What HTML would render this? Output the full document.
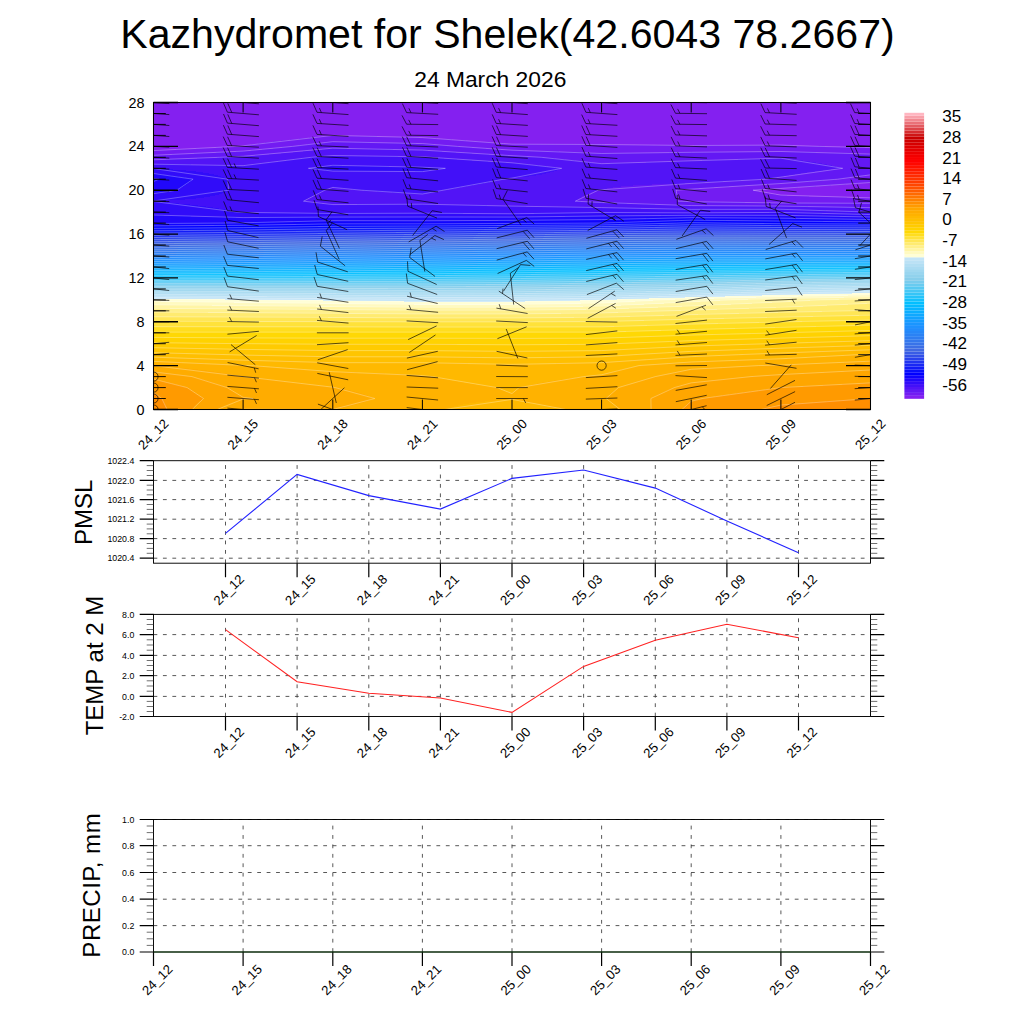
<!DOCTYPE html><html><head><meta charset="utf-8"><title>Meteogram</title>
<style>html,body{margin:0;padding:0;background:#fff}svg{display:block}text{font-family:"Liberation Sans",sans-serif;fill:#000}</style></head><body>
<svg width="1024" height="1024" viewBox="0 0 1024 1024">
<rect width="1024" height="1024" fill="#fff"/>
<text x="507.5" y="47.9" font-size="41.1" text-anchor="middle">Kazhydromet for Shelek(42.6043 78.2667)</text>
<text x="490.3" y="86.6" font-size="22.8" text-anchor="middle">24 March 2026</text>
<g shape-rendering="crispEdges">
<path fill="#8420f0" d="M153 102h718v1h-718zM153 103h718v1h-718zM153 104h718v1h-718zM153 105h718v1h-718zM153 106h718v1h-718zM153 107h718v1h-718zM153 108h718v1h-718zM153 109h718v1h-718zM153 110h718v1h-718zM153 111h718v1h-718zM153 112h718v1h-718zM153 113h718v1h-718zM153 114h718v1h-718zM153 115h718v1h-718zM153 116h718v1h-718zM153 117h718v1h-718zM153 118h718v1h-718zM153 119h718v1h-718zM153 120h718v1h-718zM153 121h718v1h-718zM153 122h718v1h-718zM153 123h718v1h-718zM153 124h718v1h-718zM153 125h718v1h-718zM153 126h718v1h-718zM153 127h718v1h-718zM153 128h718v1h-718zM153 129h718v1h-718zM153 130h718v1h-718zM153 131h718v1h-718zM153 132h718v1h-718zM153 133h718v1h-718zM153 134h718v1h-718zM153 135h178v1h-178zM337 135h534v1h-534zM153 136h167v1h-167zM377 136h494v1h-494zM153 137h156v1h-156zM419 137h452v1h-452zM153 138h146v1h-146zM437 138h434v1h-434zM153 139h137v1h-137zM452 139h419v1h-419zM153 140h128v1h-128zM466 140h405v1h-405zM153 141h120v1h-120zM480 141h391v1h-391zM153 142h112v1h-112zM492 142h379v1h-379zM153 143h105v1h-105zM504 143h367v1h-367zM153 144h98v1h-98zM605 144h266v1h-266zM153 145h92v1h-92zM690 145h4v1h-4zM793 145h78v1h-78zM153 146h81v1h-81zM825 146h46v1h-46zM153 147h63v1h-63zM865 147h6v1h-6zM153 148h43v1h-43zM153 149h23v1h-23zM153 150h2v1h-2zM859 183h12v1h-12zM846 184h25v1h-25zM831 185h40v1h-40zM816 186h55v1h-55zM798 187h73v1h-73zM780 188h91v1h-91zM764 189h107v1h-107zM754 190h117v1h-117zM759 191h112v1h-112zM764 192h107v1h-107zM769 193h102v1h-102zM776 194h95v1h-95zM787 195h84v1h-84zM809 196h62v1h-62zM847 197h24v1h-24z"/>
<path fill="#731cf2" d="M331 135h6v1h-6zM320 136h57v1h-57zM309 137h110v1h-110zM299 138h138v1h-138zM290 139h162v1h-162zM281 140h185v1h-185zM273 141h207v1h-207zM265 142h60v1h-60zM370 142h122v1h-122zM258 143h58v1h-58zM416 143h88v1h-88zM251 144h56v1h-56zM434 144h171v1h-171zM245 145h54v1h-54zM447 145h243v1h-243zM694 145h99v1h-99zM234 146h57v1h-57zM459 146h366v1h-366zM216 147h66v1h-66zM472 147h393v1h-393zM196 148h77v1h-77zM486 148h385v1h-385zM176 149h86v1h-86zM501 149h370v1h-370zM155 150h96v1h-96zM525 150h346v1h-346zM153 151h83v1h-83zM559 151h312v1h-312zM153 152h63v1h-63zM583 152h86v1h-86zM816 152h55v1h-55zM153 153h41v1h-41zM851 153h20v1h-20zM153 154h19v1h-19zM865 175h6v1h-6zM857 176h14v1h-14zM850 177h21v1h-21zM843 178h28v1h-28zM835 179h36v1h-36zM823 180h48v1h-48zM810 181h61v1h-61zM796 182h75v1h-75zM780 183h79v1h-79zM762 184h84v1h-84zM745 185h86v1h-86zM729 186h87v1h-87zM714 187h84v1h-84zM699 188h81v1h-81zM685 189h79v1h-79zM676 190h78v1h-78zM676 191h83v1h-83zM676 192h88v1h-88zM677 193h92v1h-92zM677 194h99v1h-99zM677 195h110v1h-110zM677 196h132v1h-132zM677 197h170v1h-170zM677 198h194v1h-194zM678 199h193v1h-193zM678 200h193v1h-193zM686 201h185v1h-185zM745 202h126v1h-126z"/>
<path fill="#6318f4" d="M325 142h45v1h-45zM316 143h100v1h-100zM307 144h127v1h-127zM299 145h148v1h-148zM291 146h168v1h-168zM282 147h190v1h-190zM273 148h57v1h-57zM347 148h139v1h-139zM262 149h60v1h-60zM393 149h108v1h-108zM251 150h62v1h-62zM428 150h97v1h-97zM236 151h67v1h-67zM442 151h117v1h-117zM216 152h77v1h-77zM456 152h127v1h-127zM669 152h147v1h-147zM194 153h87v1h-87zM472 153h379v1h-379zM172 154h97v1h-97zM489 154h382v1h-382zM153 155h102v1h-102zM508 155h363v1h-363zM153 156h86v1h-86zM527 156h344v1h-344zM153 157h64v1h-64zM543 157h328v1h-328zM153 158h44v1h-44zM555 158h215v1h-215zM784 158h87v1h-87zM153 159h13v1h-13zM565 159h173v1h-173zM794 159h77v1h-77zM575 160h127v1h-127zM803 160h68v1h-68zM584 161h90v1h-90zM810 161h61v1h-61zM592 162h54v1h-54zM816 162h55v1h-55zM600 163h10v1h-10zM822 163h49v1h-49zM827 164h44v1h-44zM832 165h39v1h-39zM836 166h35v1h-35zM840 167h31v1h-31zM841 168h30v1h-30zM831 169h40v1h-40zM823 170h48v1h-48zM815 171h56v1h-56zM807 172h64v1h-64zM801 173h70v1h-70zM795 174h76v1h-76zM789 175h76v1h-76zM784 176h73v1h-73zM777 177h73v1h-73zM770 178h73v1h-73zM760 179h75v1h-75zM741 180h82v1h-82zM723 181h87v1h-87zM705 182h91v1h-91zM685 183h95v1h-95zM652 184h110v1h-110zM633 185h112v1h-112zM621 186h108v1h-108zM613 187h101v1h-101zM607 188h92v1h-92zM603 189h82v1h-82zM597 190h79v1h-79zM594 191h82v1h-82zM591 192h85v1h-85zM589 193h88v1h-88zM586 194h91v1h-91zM584 195h93v1h-93zM582 196h95v1h-95zM581 197h96v1h-96zM579 198h98v1h-98zM578 199h100v1h-100zM576 200h102v1h-102zM581 201h105v1h-105zM603 202h142v1h-142zM627 203h244v1h-244zM655 204h216v1h-216zM689 205h182v1h-182zM808 206h63v1h-63zM861 207h10v1h-10z"/>
<path fill="#5214f6" d="M330 148h17v1h-17zM322 149h71v1h-71zM313 150h115v1h-115zM303 151h139v1h-139zM293 152h163v1h-163zM281 153h191v1h-191zM269 154h220v1h-220zM255 155h253v1h-253zM239 156h83v1h-83zM398 156h129v1h-129zM217 157h93v1h-93zM432 157h111v1h-111zM197 158h105v1h-105zM444 158h111v1h-111zM770 158h14v1h-14zM166 159h128v1h-128zM457 159h108v1h-108zM738 159h56v1h-56zM153 160h133v1h-133zM472 160h103v1h-103zM702 160h101v1h-101zM153 161h125v1h-125zM488 161h96v1h-96zM674 161h136v1h-136zM153 162h116v1h-116zM506 162h86v1h-86zM646 162h170v1h-170zM153 163h108v1h-108zM519 163h81v1h-81zM610 163h212v1h-212zM191 164h62v1h-62zM529 164h298v1h-298zM239 165h6v1h-6zM539 165h293v1h-293zM547 166h289v1h-289zM556 167h284v1h-284zM561 168h280v1h-280zM559 169h272v1h-272zM557 170h266v1h-266zM554 171h261v1h-261zM550 172h257v1h-257zM546 173h255v1h-255zM542 174h253v1h-253zM536 175h253v1h-253zM529 176h255v1h-255zM519 177h258v1h-258zM509 178h261v1h-261zM503 179h257v1h-257zM498 180h243v1h-243zM494 181h229v1h-229zM489 182h216v1h-216zM484 183h201v1h-201zM479 184h173v1h-173zM473 185h160v1h-160zM467 186h154v1h-154zM332 187h2v1h-2zM461 187h152v1h-152zM329 188h13v1h-13zM455 188h152v1h-152zM327 189h25v1h-25zM448 189h155v1h-155zM324 190h40v1h-40zM442 190h155v1h-155zM322 191h55v1h-55zM438 191h156v1h-156zM320 192h72v1h-72zM432 192h159v1h-159zM318 193h92v1h-92zM426 193h163v1h-163zM316 194h270v1h-270zM314 195h270v1h-270zM312 196h270v1h-270zM310 197h271v1h-271zM308 198h271v1h-271zM306 199h272v1h-272zM305 200h271v1h-271zM306 201h275v1h-275zM313 202h290v1h-290zM322 203h305v1h-305zM332 204h25v1h-25zM436 204h219v1h-219zM487 205h202v1h-202zM526 206h282v1h-282zM594 207h267v1h-267zM641 208h230v1h-230zM790 209h81v1h-81zM826 210h45v1h-45zM855 211h16v1h-16z"/>
<path fill="#4210f8" d="M322 156h76v1h-76zM310 157h122v1h-122zM302 158h142v1h-142zM294 159h163v1h-163zM286 160h186v1h-186zM278 161h210v1h-210zM269 162h237v1h-237zM261 163h258v1h-258zM153 164h38v1h-38zM253 164h276v1h-276zM153 165h86v1h-86zM245 165h86v1h-86zM342 165h197v1h-197zM153 166h170v1h-170zM389 166h158v1h-158zM153 167h162v1h-162zM428 167h128v1h-128zM153 168h157v1h-157zM443 168h118v1h-118zM173 169h143v1h-143zM435 169h124v1h-124zM186 170h139v1h-139zM429 170h128v1h-128zM196 171h219v1h-219zM423 171h131v1h-131zM203 172h347v1h-347zM209 173h337v1h-337zM214 174h328v1h-328zM218 175h318v1h-318zM221 176h308v1h-308zM224 177h295v1h-295zM226 178h283v1h-283zM228 179h275v1h-275zM228 180h270v1h-270zM228 181h266v1h-266zM228 182h261v1h-261zM228 183h256v1h-256zM228 184h251v1h-251zM228 185h245v1h-245zM228 186h239v1h-239zM228 187h104v1h-104zM334 187h127v1h-127zM228 188h101v1h-101zM342 188h113v1h-113zM229 189h98v1h-98zM352 189h96v1h-96zM228 190h96v1h-96zM364 190h78v1h-78zM226 191h96v1h-96zM377 191h61v1h-61zM224 192h96v1h-96zM392 192h40v1h-40zM222 193h96v1h-96zM410 193h16v1h-16zM219 194h97v1h-97zM215 195h99v1h-99zM210 196h102v1h-102zM204 197h106v1h-106zM196 198h112v1h-112zM185 199h121v1h-121zM167 200h138v1h-138zM154 201h152v1h-152zM168 202h145v1h-145zM179 203h143v1h-143zM190 204h142v1h-142zM357 204h79v1h-79zM198 205h289v1h-289zM206 206h320v1h-320zM213 207h381v1h-381zM219 208h422v1h-422zM225 209h565v1h-565zM230 210h596v1h-596zM234 211h621v1h-621zM249 212h352v1h-352zM602 212h167v1h-167zM783 212h88v1h-88zM463 213h71v1h-71zM822 213h49v1h-49zM867 214h4v1h-4z"/>
<path fill="#310cf9" d="M331 165h11v1h-11zM323 166h66v1h-66zM315 167h113v1h-113zM310 168h133v1h-133zM153 169h20v1h-20zM316 169h119v1h-119zM153 170h33v1h-33zM325 170h104v1h-104zM153 171h43v1h-43zM415 171h8v1h-8zM153 172h50v1h-50zM153 173h56v1h-56zM163 174h51v1h-51zM172 175h46v1h-46zM179 176h42v1h-42zM185 177h39v1h-39zM190 178h36v1h-36zM193 179h35v1h-35zM192 180h36v1h-36zM191 181h37v1h-37zM190 182h38v1h-38zM188 183h40v1h-40zM187 184h41v1h-41zM185 185h43v1h-43zM184 186h44v1h-44zM182 187h46v1h-46zM180 188h48v1h-48zM178 189h51v1h-51zM175 190h53v1h-53zM169 191h57v1h-57zM162 192h62v1h-62zM154 193h68v1h-68zM153 194h66v1h-66zM153 195h62v1h-62zM153 196h57v1h-57zM153 197h51v1h-51zM153 198h43v1h-43zM153 199h32v1h-32zM153 200h14v1h-14zM153 201h1v1h-1zM153 202h15v1h-15zM153 203h26v1h-26zM153 204h37v1h-37zM153 205h45v1h-45zM153 206h53v1h-53zM153 207h60v1h-60zM153 208h66v1h-66zM153 209h72v1h-72zM153 210h77v1h-77zM153 211h81v1h-81zM153 212h96v1h-96zM601 212h1v1h-1zM769 212h14v1h-14zM153 213h310v1h-310zM534 213h288v1h-288zM153 214h714v1h-714zM164 215h497v1h-497zM789 215h82v1h-82zM191 216h374v1h-374zM840 216h31v1h-31zM236 217h23v1h-23z"/>
<path fill="#2108fb" d="M153 174h10v1h-10zM153 175h19v1h-19zM153 176h26v1h-26zM153 177h32v1h-32zM153 178h37v1h-37zM158 179h35v1h-35zM156 180h36v1h-36zM154 181h37v1h-37zM153 182h37v1h-37zM153 183h35v1h-35zM153 184h34v1h-34zM153 185h32v1h-32zM153 186h31v1h-31zM153 187h29v1h-29zM153 188h27v1h-27zM153 189h25v1h-25zM153 190h22v1h-22zM153 191h16v1h-16zM153 192h9v1h-9zM153 193h1v1h-1zM153 215h11v1h-11zM661 215h128v1h-128zM153 216h38v1h-38zM565 216h275v1h-275zM153 217h83v1h-83zM259 217h612v1h-612zM153 218h493v1h-493zM800 218h71v1h-71zM153 219h451v1h-451zM153 220h345v1h-345zM153 221h140v1h-140zM153 222h101v1h-101z"/>
<path fill="#1004fd" d="M153 179h5v1h-5zM153 180h3v1h-3zM153 181h1v1h-1zM646 218h154v1h-154zM604 219h267v1h-267zM498 220h180v1h-180zM726 220h145v1h-145zM293 221h350v1h-350zM823 221h48v1h-48zM254 222h361v1h-361zM153 223h357v1h-357zM153 224h143v1h-143zM153 225h61v1h-61z"/>
<path fill="#0000ff" d="M678 220h48v1h-48zM643 221h180v1h-180zM615 222h256v1h-256zM510 223h151v1h-151zM764 223h107v1h-107zM296 224h323v1h-323zM214 225h283v1h-283zM153 226h165v1h-165zM153 227h99v1h-99z"/>
<path fill="#080efb" d="M661 223h103v1h-103zM619 224h252v1h-252zM497 225h162v1h-162zM771 225h100v1h-100zM318 226h291v1h-291zM252 227h237v1h-237zM153 228h196v1h-196zM153 229h121v1h-121zM153 230h30v1h-30z"/>
<path fill="#111bf7" d="M659 225h112v1h-112zM609 226h262v1h-262zM489 227h166v1h-166zM784 227h87v1h-87zM349 228h240v1h-240zM274 229h210v1h-210zM183 230h197v1h-197zM153 231h143v1h-143zM153 232h68v1h-68z"/>
<path fill="#1928f4" d="M655 227h129v1h-129zM589 228h282v1h-282zM484 229h166v1h-166zM820 229h51v1h-51zM380 230h189v1h-189zM296 231h185v1h-185zM221 232h175v1h-175zM153 233h165v1h-165zM153 234h93v1h-93z"/>
<path fill="#2135f0" d="M650 229h170v1h-170zM569 230h302v1h-302zM481 231h160v1h-160zM870 231h1v1h-1zM396 232h158v1h-158zM318 233h160v1h-160zM246 234h158v1h-158zM153 235h173v1h-173zM153 236h97v1h-97z"/>
<path fill="#2942ec" d="M641 231h229v1h-229zM554 232h317v1h-317zM478 233h148v1h-148zM404 234h141v1h-141zM326 235h150v1h-150zM250 236h153v1h-153zM153 237h174v1h-174zM153 238h100v1h-100zM153 239h8v1h-8z"/>
<path fill="#314fe8" d="M626 233h245v1h-245zM545 234h326v1h-326zM476 235h144v1h-144zM403 236h141v1h-141zM327 237h147v1h-147zM253 238h148v1h-148zM161 239h167v1h-167zM153 240h104v1h-104zM153 241h15v1h-15z"/>
<path fill="#395de5" d="M620 235h251v1h-251zM544 236h327v1h-327zM474 237h148v1h-148zM401 238h142v1h-142zM328 239h145v1h-145zM257 240h143v1h-143zM168 241h161v1h-161zM153 242h107v1h-107zM153 243h21v1h-21z"/>
<path fill="#4169e1" d="M622 237h249v1h-249zM543 238h328v1h-328zM473 239h151v1h-151zM400 240h142v1h-142zM329 241h142v1h-142zM260 242h139v1h-139zM174 243h156v1h-156zM153 244h109v1h-109zM153 245h26v1h-26z"/>
<path fill="#3c6ee5" d="M624 239h247v1h-247zM542 240h329v1h-329zM471 241h155v1h-155zM399 242h142v1h-142zM330 243h139v1h-139zM262 244h136v1h-136zM179 245h152v1h-152zM153 246h110v1h-110zM153 247h25v1h-25z"/>
<path fill="#3873e9" d="M626 241h245v1h-245zM541 242h330v1h-330zM469 243h160v1h-160zM398 244h142v1h-142zM331 245h137v1h-137zM263 246h136v1h-136zM178 247h154v1h-154zM153 248h110v1h-110zM153 249h25v1h-25z"/>
<path fill="#3478ed" d="M629 243h242v1h-242zM540 244h331v1h-331zM468 245h165v1h-165zM399 246h144v1h-144zM332 247h138v1h-138zM263 248h138v1h-138zM178 249h154v1h-154zM153 250h111v1h-111zM153 251h24v1h-24z"/>
<path fill="#2f7df0" d="M633 245h238v1h-238zM543 246h328v1h-328zM470 247h172v1h-172zM862 247h9v1h-9zM401 248h145v1h-145zM332 249h141v1h-141zM264 250h138v1h-138zM177 251h156v1h-156zM153 252h111v1h-111zM153 253h23v1h-23z"/>
<path fill="#2b82f4" d="M642 247h220v1h-220zM546 248h325v1h-325zM473 249h179v1h-179zM843 249h28v1h-28zM402 250h148v1h-148zM333 251h142v1h-142zM264 252h139v1h-139zM176 253h158v1h-158zM153 254h111v1h-111zM153 255h23v1h-23z"/>
<path fill="#2687f8" d="M652 249h191v1h-191zM550 250h321v1h-321zM475 251h186v1h-186zM818 251h53v1h-53zM403 252h150v1h-150zM334 253h144v1h-144zM264 254h141v1h-141zM176 255h159v1h-159zM153 256h110v1h-110zM153 257h16v1h-16z"/>
<path fill="#228cfc" d="M661 251h157v1h-157zM553 252h318v1h-318zM478 253h192v1h-192zM785 253h86v1h-86zM405 254h152v1h-152zM335 255h145v1h-145zM263 256h143v1h-143zM169 257h164v1h-164zM153 258h106v1h-106zM153 259h8v1h-8z"/>
<path fill="#1e91ff" d="M670 253h115v1h-115zM557 254h314v1h-314zM480 255h200v1h-200zM750 255h121v1h-121zM406 256h153v1h-153zM333 257h147v1h-147zM259 258h146v1h-146zM161 259h170v1h-170zM153 260h101v1h-101z"/>
<path fill="#1a96ff" d="M680 255h70v1h-70zM559 256h312v1h-312zM480 257h187v1h-187zM405 258h152v1h-152zM331 259h149v1h-149zM254 260h150v1h-150zM153 261h175v1h-175zM153 262h97v1h-97z"/>
<path fill="#169cff" d="M667 257h204v1h-204zM557 258h314v1h-314zM480 259h172v1h-172zM404 260h150v1h-150zM328 261h151v1h-151zM250 262h154v1h-154zM153 263h172v1h-172zM153 264h92v1h-92z"/>
<path fill="#12a2ff" d="M652 259h219v1h-219zM554 260h317v1h-317zM479 261h161v1h-161zM404 262h148v1h-148zM325 263h153v1h-153zM245 264h158v1h-158zM153 265h169v1h-169zM153 266h85v1h-85z"/>
<path fill="#0fa8ff" d="M640 261h231v1h-231zM552 262h259v1h-259zM478 263h152v1h-152zM403 264h147v1h-147zM322 265h156v1h-156zM238 266h164v1h-164zM153 267h162v1h-162zM153 268h53v1h-53z"/>
<path fill="#0baeff" d="M811 262h60v1h-60zM630 263h241v1h-241zM550 264h197v1h-197zM478 265h145v1h-145zM402 266h146v1h-146zM315 267h161v1h-161zM206 268h186v1h-186zM153 269h139v1h-139zM153 270h7v1h-7z"/>
<path fill="#07b4ff" d="M747 264h124v1h-124zM623 265h248v1h-248zM548 266h167v1h-167zM476 267h140v1h-140zM392 268h152v1h-152zM292 269h177v1h-177zM160 270h217v1h-217zM153 271h112v1h-112z"/>
<path fill="#03baff" d="M715 266h156v1h-156zM616 267h222v1h-222zM544 268h150v1h-150zM469 269h140v1h-140zM377 270h163v1h-163zM265 271h197v1h-197zM153 272h206v1h-206zM153 273h72v1h-72z"/>
<path fill="#02bfff" d="M838 267h33v1h-33zM694 268h177v1h-177zM609 269h180v1h-180zM540 270h142v1h-142zM462 271h141v1h-141zM359 272h176v1h-176zM225 273h229v1h-229zM153 274h182v1h-182zM153 275h10v1h-10z"/>
<path fill="#13c1fc" d="M789 269h82v1h-82zM682 270h189v1h-189zM603 271h157v1h-157zM535 272h137v1h-137zM454 273h144v1h-144zM335 274h196v1h-196zM163 275h282v1h-282zM153 276h150v1h-150z"/>
<path fill="#24c3fa" d="M760 271h111v1h-111zM672 272h171v1h-171zM598 273h142v1h-142zM531 274h132v1h-132zM445 275h148v1h-148zM303 276h223v1h-223zM153 277h282v1h-282zM153 278h97v1h-97z"/>
<path fill="#35c5f7" d="M843 272h28v1h-28zM740 273h131v1h-131zM663 274h145v1h-145zM593 275h131v1h-131zM526 276h129v1h-129zM435 277h154v1h-154zM250 278h271v1h-271zM153 279h260v1h-260z"/>
<path fill="#46c7f5" d="M808 274h63v1h-63zM724 275h147v1h-147zM655 276h126v1h-126zM589 277h123v1h-123zM521 278h126v1h-126zM413 279h169v1h-169zM153 280h361v1h-361zM153 281h192v1h-192z"/>
<path fill="#57c9f2" d="M781 276h90v1h-90zM712 277h133v1h-133zM647 278h113v1h-113zM582 279h119v1h-119zM514 280h125v1h-125zM345 281h230v1h-230zM153 282h349v1h-349z"/>
<path fill="#68cbf0" d="M845 277h26v1h-26zM760 278h111v1h-111zM701 279h104v1h-104zM639 280h101v1h-101zM575 281h118v1h-118zM502 282h130v1h-130zM153 283h416v1h-416zM153 284h333v1h-333z"/>
<path fill="#79cced" d="M805 279h66v1h-66zM740 280h111v1h-111zM693 281h80v1h-80zM632 282h95v1h-95zM569 283h115v1h-115zM486 284h140v1h-140zM153 285h409v1h-409zM153 286h313v1h-313z"/>
<path fill="#88ceeb" d="M851 280h20v1h-20zM773 281h98v1h-98zM727 282h85v1h-85zM684 283h72v1h-72zM626 284h91v1h-91zM562 285h114v1h-114zM466 286h154v1h-154zM153 287h401v1h-401zM388 288h50v1h-50z"/>
<path fill="#91d2ed" d="M812 282h59v1h-59zM756 283h95v1h-95zM717 284h64v1h-64zM676 285h66v1h-66zM620 286h89v1h-89zM554 287h114v1h-114zM153 288h235v1h-235zM438 288h176v1h-176zM153 289h393v1h-393z"/>
<path fill="#99d5ef" d="M851 283h20v1h-20zM781 284h90v1h-90zM742 285h76v1h-76zM709 286h56v1h-56zM668 287h64v1h-64zM614 288h89v1h-89zM546 289h113v1h-113zM153 290h454v1h-454zM256 291h280v1h-280z"/>
<path fill="#a1d8f0" d="M818 285h53v1h-53zM765 286h87v1h-87zM732 287h57v1h-57zM703 288h50v1h-50zM659 289h66v1h-66zM607 290h88v1h-88zM153 291h103v1h-103zM536 291h110v1h-110zM153 292h447v1h-447zM336 293h189v1h-189z"/>
<path fill="#aadbf2" d="M852 286h19v1h-19zM789 287h82v1h-82zM753 288h69v1h-69zM725 289h50v1h-50zM695 290h52v1h-52zM646 291h71v1h-71zM600 292h81v1h-81zM153 293h183v1h-183zM525 293h112v1h-112zM197 294h394v1h-394zM390 295h123v1h-123z"/>
<path fill="#b2def3" d="M822 288h49v1h-49zM775 289h85v1h-85zM747 290h66v1h-66zM717 291h54v1h-54zM681 292h60v1h-60zM637 293h71v1h-71zM153 294h44v1h-44zM591 294h78v1h-78zM153 295h237v1h-237zM513 295h116v1h-116zM267 296h314v1h-314z"/>
<path fill="#bbe1f5" d="M860 289h11v1h-11zM813 290h58v1h-58zM771 291h85v1h-85zM741 292h67v1h-67zM708 293h59v1h-59zM669 294h65v1h-65zM629 295h68v1h-68zM153 296h114v1h-114zM581 296h77v1h-77zM166 297h456v1h-456zM320 298h250v1h-250z"/>
<path fill="#c3e4f7" d="M856 291h15v1h-15zM808 292h63v1h-63zM767 293h85v1h-85zM734 294h69v1h-69zM697 295h65v1h-65zM658 296h67v1h-67zM153 297h13v1h-13zM622 297h63v1h-63zM153 298h167v1h-167zM570 298h79v1h-79zM225 299h392v1h-392zM323 300h257v1h-257zM404 301h121v1h-121z"/>
<path fill="#fffed6" d="M852 293h19v1h-19zM803 294h68v1h-68zM762 295h86v1h-86zM725 296h73v1h-73zM685 297h71v1h-71zM649 298h65v1h-65zM153 299h72v1h-72zM617 299h58v1h-58zM153 300h170v1h-170zM580 300h73v1h-73zM161 301h243v1h-243zM525 301h110v1h-110zM234 302h382v1h-382zM320 303h261v1h-261zM414 304h104v1h-104z"/>
<path fill="#fffac0" d="M848 295h23v1h-23zM798 296h73v1h-73zM756 297h88v1h-88zM714 298h78v1h-78zM675 299h73v1h-73zM653 300h67v1h-67zM153 301h8v1h-8zM635 301h65v1h-65zM153 302h81v1h-81zM616 302h66v1h-66zM153 303h167v1h-167zM581 303h83v1h-83zM153 304h261v1h-261zM518 304h126v1h-126zM212 305h409v1h-409zM316 306h267v1h-267z"/>
<path fill="#fff5a5" d="M844 297h27v1h-27zM792 298h79v1h-79zM748 299h91v1h-91zM720 300h90v1h-90zM700 301h91v1h-91zM682 302h90v1h-90zM664 303h88v1h-88zM644 304h87v1h-87zM153 305h59v1h-59zM621 305h85v1h-85zM153 306h163v1h-163zM583 306h99v1h-99zM153 307h505v1h-505zM170 308h459v1h-459zM310 309h276v1h-276z"/>
<path fill="#fff08b" d="M839 299h32v1h-32zM810 300h61v1h-61zM791 301h80v1h-80zM772 302h99v1h-99zM752 303h115v1h-115zM731 304h117v1h-117zM706 305h121v1h-121zM682 306h121v1h-121zM658 307h118v1h-118zM153 308h17v1h-17zM629 308h120v1h-120zM153 309h157v1h-157zM586 309h131v1h-131zM153 310h528v1h-528zM153 311h497v1h-497zM208 312h410v1h-410zM349 313h212v1h-212z"/>
<path fill="#ffeb70" d="M867 303h4v1h-4zM848 304h23v1h-23zM827 305h44v1h-44zM803 306h68v1h-68zM776 307h95v1h-95zM749 308h122v1h-122zM717 309h154v1h-154zM681 310h181v1h-181zM650 311h172v1h-172zM153 312h55v1h-55zM618 312h160v1h-160zM153 313h196v1h-196zM561 313h178v1h-178zM153 314h545v1h-545zM153 315h511v1h-511zM153 316h477v1h-477zM328 317h246v1h-246z"/>
<path fill="#ffe655" d="M862 310h9v1h-9zM822 311h49v1h-49zM778 312h93v1h-93zM739 313h132v1h-132zM698 314h173v1h-173zM664 315h195v1h-195zM630 316h183v1h-183zM153 317h175v1h-175zM574 317h193v1h-193zM153 318h571v1h-571zM153 319h529v1h-529zM153 320h491v1h-491zM255 321h349v1h-349z"/>
<path fill="#ffe23a" d="M859 315h12v1h-12zM813 316h58v1h-58zM767 317h104v1h-104zM724 318h147v1h-147zM682 319h189v1h-189zM644 320h207v1h-207zM153 321h102v1h-102zM604 321h198v1h-198zM153 322h606v1h-606zM153 323h565v1h-565zM153 324h528v1h-528zM153 325h494v1h-494zM153 326h461v1h-461z"/>
<path fill="#ffdd1f" d="M851 320h20v1h-20zM802 321h69v1h-69zM759 322h112v1h-112zM718 323h153v1h-153zM681 324h190v1h-190zM647 325h212v1h-212zM614 326h202v1h-202zM153 327h622v1h-622zM153 328h582v1h-582zM153 329h542v1h-542zM153 330h508v1h-508zM153 331h473v1h-473z"/>
<path fill="#ffd804" d="M859 325h12v1h-12zM816 326h55v1h-55zM775 327h96v1h-96zM735 328h136v1h-136zM695 329h176v1h-176zM661 330h210v1h-210zM626 331h205v1h-205zM153 332h638v1h-638zM153 333h598v1h-598zM153 334h560v1h-560zM153 335h526v1h-526zM153 336h496v1h-496zM164 337h457v1h-457z"/>
<path fill="#ffd200" d="M831 331h40v1h-40zM791 332h80v1h-80zM751 333h120v1h-120zM713 334h158v1h-158zM679 335h192v1h-192zM649 336h189v1h-189zM153 337h11v1h-11zM621 337h180v1h-180zM153 338h612v1h-612zM153 339h577v1h-577zM153 340h543v1h-543zM153 341h516v1h-516zM153 342h491v1h-491zM230 343h390v1h-390zM457 344h110v1h-110z"/>
<path fill="#ffcb00" d="M838 336h33v1h-33zM801 337h70v1h-70zM765 338h106v1h-106zM730 339h141v1h-141zM696 340h175v1h-175zM669 341h173v1h-173zM644 342h164v1h-164zM153 343h77v1h-77zM620 343h156v1h-156zM153 344h304v1h-304zM567 344h175v1h-175zM153 345h557v1h-557zM153 346h529v1h-529zM153 347h507v1h-507zM199 348h441v1h-441zM252 349h369v1h-369zM326 350h277v1h-277z"/>
<path fill="#ffc500" d="M842 341h29v1h-29zM808 342h63v1h-63zM776 343h95v1h-95zM742 344h129v1h-129zM710 345h158v1h-158zM682 346h152v1h-152zM660 347h142v1h-142zM153 348h46v1h-46zM640 348h132v1h-132zM153 349h99v1h-99zM621 349h121v1h-121zM153 350h173v1h-173zM603 350h112v1h-112zM153 351h536v1h-536zM153 352h518v1h-518zM186 353h467v1h-467zM223 354h414v1h-414zM269 355h352v1h-352zM321 356h284v1h-284zM482 357h60v1h-60z"/>
<path fill="#ffbf00" d="M868 345h3v1h-3zM834 346h37v1h-37zM802 347h69v1h-69zM772 348h99v1h-99zM742 349h129v1h-129zM715 350h135v1h-135zM689 351h132v1h-132zM671 352h124v1h-124zM153 353h33v1h-33zM653 353h115v1h-115zM153 354h70v1h-70zM637 354h106v1h-106zM153 355h116v1h-116zM621 355h99v1h-99zM153 356h168v1h-168zM605 356h91v1h-91zM164 357h318v1h-318zM542 357h136v1h-136zM196 358h466v1h-466zM225 359h421v1h-421zM254 360h378v1h-378zM293 361h325v1h-325zM327 362h277v1h-277zM468 363h88v1h-88z"/>
<path fill="#ffb900" d="M850 350h21v1h-21zM821 351h50v1h-50zM795 352h76v1h-76zM768 353h103v1h-103zM743 354h119v1h-119zM720 355h124v1h-124zM696 356h130v1h-130zM153 357h11v1h-11zM678 357h129v1h-129zM153 358h43v1h-43zM662 358h125v1h-125zM153 359h72v1h-72zM646 359h117v1h-117zM153 360h101v1h-101zM632 360h104v1h-104zM156 361h137v1h-137zM618 361h88v1h-88zM182 362h145v1h-145zM604 362h79v1h-79zM205 363h263v1h-263zM556 363h112v1h-112zM226 364h428v1h-428zM247 365h394v1h-394zM263 366h372v1h-372zM277 367h353v1h-353zM290 368h336v1h-336zM304 369h317v1h-317zM317 370h300v1h-300zM330 371h283v1h-283zM358 372h252v1h-252zM385 373h221v1h-221zM405 374h198v1h-198zM421 375h173v1h-173zM431 376h154v1h-154zM437 377h139v1h-139zM442 378h126v1h-126zM447 379h114v1h-114zM452 380h102v1h-102zM458 381h90v1h-90zM464 382h78v1h-78zM470 383h67v1h-67zM476 384h56v1h-56zM482 385h46v1h-46zM489 386h34v1h-34zM497 387h22v1h-22zM499 388h19v1h-19zM501 389h16v1h-16zM504 390h12v1h-12zM506 391h8v1h-8zM509 392h4v1h-4zM510 399h3v1h-3zM496 400h23v1h-23zM485 401h40v1h-40zM476 402h54v1h-54zM469 403h67v1h-67zM463 404h78v1h-78zM458 405h88v1h-88zM454 406h97v1h-97zM451 407h105v1h-105zM448 408h113v1h-113zM445 409h121v1h-121z"/>
<path fill="#ffb200" d="M862 354h9v1h-9zM844 355h27v1h-27zM826 356h45v1h-45zM807 357h64v1h-64zM787 358h84v1h-84zM763 359h108v1h-108zM736 360h135v1h-135zM153 361h3v1h-3zM706 361h159v1h-159zM153 362h29v1h-29zM683 362h161v1h-161zM153 363h52v1h-52zM668 363h152v1h-152zM153 364h73v1h-73zM654 364h141v1h-141zM153 365h94v1h-94zM641 365h123v1h-123zM166 366h97v1h-97zM635 366h106v1h-106zM178 367h99v1h-99zM630 367h92v1h-92zM189 368h101v1h-101zM626 368h78v1h-78zM198 369h106v1h-106zM621 369h69v1h-69zM207 370h110v1h-110zM617 370h68v1h-68zM214 371h116v1h-116zM613 371h66v1h-66zM221 372h137v1h-137zM610 372h64v1h-64zM227 373h158v1h-158zM606 373h63v1h-63zM233 374h172v1h-172zM603 374h62v1h-62zM238 375h183v1h-183zM594 375h66v1h-66zM243 376h188v1h-188zM585 376h71v1h-71zM250 377h187v1h-187zM576 377h76v1h-76zM259 378h183v1h-183zM568 378h81v1h-81zM267 379h180v1h-180zM561 379h84v1h-84zM275 380h177v1h-177zM554 380h88v1h-88zM284 381h174v1h-174zM548 381h90v1h-90zM292 382h172v1h-172zM542 382h93v1h-93zM301 383h169v1h-169zM537 383h95v1h-95zM309 384h167v1h-167zM532 384h96v1h-96zM318 385h164v1h-164zM528 385h97v1h-97zM326 386h163v1h-163zM523 386h99v1h-99zM335 387h162v1h-162zM519 387h100v1h-100zM341 388h158v1h-158zM518 388h99v1h-99zM346 389h155v1h-155zM517 389h99v1h-99zM351 390h153v1h-153zM516 390h99v1h-99zM355 391h151v1h-151zM514 391h99v1h-99zM359 392h150v1h-150zM513 392h99v1h-99zM362 393h249v1h-249zM365 394h245v1h-245zM368 395h241v1h-241zM370 396h238v1h-238zM373 397h234v1h-234zM375 398h231v1h-231zM372 399h138v1h-138zM513 399h95v1h-95zM370 400h126v1h-126zM519 400h90v1h-90zM367 401h118v1h-118zM525 401h86v1h-86zM364 402h112v1h-112zM530 402h82v1h-82zM360 403h109v1h-109zM536 403h78v1h-78zM357 404h106v1h-106zM541 404h74v1h-74zM353 405h105v1h-105zM546 405h70v1h-70zM349 406h105v1h-105zM551 406h66v1h-66zM344 407h107v1h-107zM556 407h62v1h-62zM339 408h109v1h-109zM561 408h58v1h-58zM242 409h203v1h-203zM566 409h54v1h-54z"/>
<path fill="#ffac00" d="M865 361h6v1h-6zM844 362h27v1h-27zM820 363h51v1h-51zM795 364h76v1h-76zM764 365h107v1h-107zM153 366h13v1h-13zM741 366h130v1h-130zM153 367h25v1h-25zM722 367h149v1h-149zM153 368h36v1h-36zM704 368h167v1h-167zM153 369h45v1h-45zM690 369h181v1h-181zM153 370h54v1h-54zM685 370h177v1h-177zM153 371h61v1h-61zM679 371h165v1h-165zM159 372h62v1h-62zM674 372h150v1h-150zM168 373h59v1h-59zM669 373h135v1h-135zM177 374h56v1h-56zM665 374h118v1h-118zM184 375h54v1h-54zM660 375h107v1h-107zM191 376h52v1h-52zM656 376h97v1h-97zM195 377h55v1h-55zM652 377h90v1h-90zM199 378h60v1h-60zM649 378h83v1h-83zM203 379h64v1h-64zM645 379h77v1h-77zM206 380h69v1h-69zM642 380h71v1h-71zM210 381h74v1h-74zM638 381h65v1h-65zM213 382h79v1h-79zM635 382h60v1h-60zM216 383h85v1h-85zM632 383h57v1h-57zM219 384h90v1h-90zM628 384h57v1h-57zM222 385h96v1h-96zM625 385h57v1h-57zM224 386h102v1h-102zM622 386h56v1h-56zM227 387h108v1h-108zM619 387h56v1h-56zM229 388h112v1h-112zM617 388h55v1h-55zM230 389h116v1h-116zM616 389h53v1h-53zM232 390h119v1h-119zM615 390h52v1h-52zM233 391h122v1h-122zM613 391h52v1h-52zM235 392h124v1h-124zM612 392h51v1h-51zM237 393h125v1h-125zM611 393h49v1h-49zM238 394h127v1h-127zM610 394h48v1h-48zM240 395h128v1h-128zM609 395h47v1h-47zM242 396h128v1h-128zM608 396h47v1h-47zM245 397h128v1h-128zM607 397h46v1h-46zM253 398h122v1h-122zM606 398h45v1h-45zM241 399h131v1h-131zM608 399h43v1h-43zM238 400h132v1h-132zM609 400h42v1h-42zM235 401h132v1h-132zM611 401h40v1h-40zM232 402h132v1h-132zM612 402h39v1h-39zM229 403h131v1h-131zM614 403h37v1h-37zM227 404h130v1h-130zM615 404h36v1h-36zM224 405h129v1h-129zM616 405h35v1h-35zM222 406h127v1h-127zM617 406h34v1h-34zM221 407h123v1h-123zM618 407h33v1h-33zM219 408h120v1h-120zM619 408h32v1h-32zM217 409h25v1h-25zM620 409h31v1h-31z"/>
<path fill="#ffa600" d="M862 370h9v1h-9zM844 371h27v1h-27zM153 372h6v1h-6zM824 372h47v1h-47zM153 373h15v1h-15zM804 373h67v1h-67zM153 374h24v1h-24zM783 374h88v1h-88zM153 375h31v1h-31zM767 375h104v1h-104zM153 376h38v1h-38zM753 376h118v1h-118zM153 377h42v1h-42zM742 377h129v1h-129zM153 378h46v1h-46zM732 378h139v1h-139zM155 379h48v1h-48zM722 379h149v1h-149zM160 380h46v1h-46zM713 380h158v1h-158zM164 381h46v1h-46zM703 381h168v1h-168zM168 382h45v1h-45zM695 382h176v1h-176zM172 383h44v1h-44zM689 383h171v1h-171zM176 384h43v1h-43zM685 384h157v1h-157zM180 385h42v1h-42zM682 385h141v1h-141zM183 386h41v1h-41zM678 386h125v1h-125zM187 387h40v1h-40zM675 387h107v1h-107zM188 388h41v1h-41zM672 388h101v1h-101zM190 389h40v1h-40zM669 389h96v1h-96zM191 390h41v1h-41zM667 390h91v1h-91zM193 391h40v1h-40zM665 391h85v1h-85zM194 392h41v1h-41zM663 392h80v1h-80zM196 393h41v1h-41zM660 393h76v1h-76zM197 394h41v1h-41zM658 394h71v1h-71zM199 395h41v1h-41zM656 395h66v1h-66zM200 396h42v1h-42zM655 396h60v1h-60zM202 397h43v1h-43zM653 397h56v1h-56zM203 398h50v1h-50zM651 398h52v1h-52zM202 399h39v1h-39zM651 399h47v1h-47zM201 400h37v1h-37zM651 400h43v1h-43zM199 401h36v1h-36zM651 401h40v1h-40zM198 402h34v1h-34zM651 402h39v1h-39zM197 403h32v1h-32zM651 403h37v1h-37zM196 404h31v1h-31zM651 404h36v1h-36zM195 405h29v1h-29zM651 405h35v1h-35zM194 406h28v1h-28zM651 406h34v1h-34zM194 407h27v1h-27zM651 407h33v1h-33zM193 408h26v1h-26zM651 408h32v1h-32zM192 409h25v1h-25zM651 409h31v1h-31z"/>
<path fill="#ff9a00" d="M153 379h2v1h-2zM153 380h7v1h-7zM153 381h11v1h-11zM153 382h15v1h-15zM153 383h19v1h-19zM860 383h11v1h-11zM153 384h23v1h-23zM842 384h29v1h-29zM153 385h27v1h-27zM823 385h48v1h-48zM153 386h30v1h-30zM803 386h68v1h-68zM153 387h34v1h-34zM782 387h89v1h-89zM153 388h35v1h-35zM773 388h98v1h-98zM153 389h37v1h-37zM765 389h106v1h-106zM153 390h38v1h-38zM758 390h113v1h-113zM153 391h40v1h-40zM750 391h121v1h-121zM154 392h40v1h-40zM743 392h128v1h-128zM155 393h41v1h-41zM736 393h135v1h-135zM156 394h41v1h-41zM729 394h142v1h-142zM158 395h41v1h-41zM722 395h149v1h-149zM159 396h41v1h-41zM715 396h156v1h-156zM160 397h42v1h-42zM709 397h162v1h-162zM162 398h41v1h-41zM703 398h168v1h-168zM163 399h39v1h-39zM698 399h157v1h-157zM163 400h38v1h-38zM694 400h146v1h-146zM164 401h35v1h-35zM691 401h135v1h-135zM164 402h34v1h-34zM690 402h123v1h-123zM165 403h32v1h-32zM688 403h112v1h-112zM165 404h31v1h-31zM687 404h101v1h-101zM166 405h29v1h-29zM686 405h93v1h-93zM166 406h28v1h-28zM685 406h89v1h-89zM166 407h28v1h-28zM684 407h86v1h-86zM167 408h26v1h-26zM683 408h82v1h-82zM167 409h25v1h-25zM682 409h79v1h-79z"/>
<path fill="#ff8e00" d="M153 392h1v1h-1zM153 393h2v1h-2zM153 394h3v1h-3zM153 395h5v1h-5zM153 396h6v1h-6zM153 397h7v1h-7zM153 398h9v1h-9zM153 399h10v1h-10zM855 399h16v1h-16zM153 400h10v1h-10zM840 400h31v1h-31zM153 401h11v1h-11zM826 401h45v1h-45zM153 402h11v1h-11zM813 402h58v1h-58zM153 403h12v1h-12zM800 403h71v1h-71zM153 404h12v1h-12zM788 404h83v1h-83zM153 405h13v1h-13zM779 405h92v1h-92zM153 406h13v1h-13zM774 406h97v1h-97zM153 407h13v1h-13zM770 407h101v1h-101zM153 408h14v1h-14zM765 408h106v1h-106zM153 409h14v1h-14zM761 409h110v1h-110z"/>
</g>
<clipPath id="cp"><rect x="153.5" y="102.5" width="717.0" height="307.0"/></clipPath>
<path clip-path="url(#cp)" d="M242.4 409.5L243.1 409.2M217.3 409.5L243.1 399.0M192.2 409.5L203.5 398.5M167.1 409.5L161.8 398.5M243.1 397.3L227.1 387.6M203.5 398.5L187.1 387.6M161.8 398.5L153.5 392.4M227.1 387.6L191.9 376.6M187.1 387.6L153.5 379.1M243.1 376.6L153.5 365.6M191.9 376.6L153.5 371.9M243.1 355.1L229.0 354.7M243.1 360.2L153.5 357.2M243.1 365.4L153.5 361.4M243.1 349.4L153.5 347.7M229.0 354.7L153.5 352.7M243.1 337.9L153.5 337.4M243.1 343.7L153.5 342.7M243.1 326.8L153.5 326.7M243.1 332.2L153.5 332.2M243.1 312.7L153.5 312.2M243.1 317.1L153.5 316.8M243.1 321.5L153.5 321.3M243.1 302.6L153.5 301.4M243.1 305.8L153.5 304.9M243.1 309.0L153.5 308.4M243.1 289.8L153.5 289.6M243.1 291.5L153.5 291.2M243.1 293.1L153.5 292.7M243.1 294.7L153.5 294.3M243.1 296.4L153.5 295.9M243.1 298.0L153.5 297.4M243.1 299.6L153.5 299.0M243.1 278.5L153.5 278.8M243.1 280.1L153.5 280.4M243.1 281.7L153.5 281.9M243.1 283.4L153.5 283.4M243.1 285.0L153.5 285.0M243.1 286.6L153.5 286.5M243.1 288.2L153.5 288.1M185.0 267.0L153.5 267.2M243.1 268.2L153.5 268.9M243.1 270.0L153.5 270.5M243.1 271.7L153.5 272.2M243.1 273.4L153.5 273.9M243.1 275.1L153.5 275.5M243.1 276.8L153.5 277.2M243.1 256.8L153.5 257.7M243.1 258.7L153.5 259.6M243.1 260.6L153.5 261.5M243.1 262.6L153.5 263.4M243.1 264.5L153.5 265.3M185.0 267.0L243.1 266.5M221.4 245.0L153.5 245.8M243.1 246.8L153.5 247.8M243.1 248.8L153.5 249.8M243.1 250.8L153.5 251.7M243.1 252.8L153.5 253.7M243.1 254.8L153.5 255.7M243.1 234.5L153.5 235.4M243.1 236.6L153.5 237.5M243.1 238.6L153.5 239.6M243.1 240.7L153.5 241.7M243.1 242.7L153.5 243.7M221.4 245.0L243.1 244.8M220.7 223.1L153.5 223.5M243.1 225.3L153.5 225.9M243.1 227.6L153.5 228.3M243.1 230.0L153.5 230.8M243.1 232.3L153.5 233.2M243.1 212.4L237.2 212.1M243.1 217.6L153.5 215.0M220.7 223.1L243.1 222.8M237.2 212.1L153.5 201.5M228.6 190.2L153.5 201.0M176.8 190.2L153.5 193.6M228.6 190.2L227.6 179.2M176.8 190.2L193.1 179.2M158.7 179.2L153.5 181.6M227.6 179.2L153.5 168.5M193.1 179.2L153.5 173.5M158.7 179.2L153.5 178.5M219.8 157.3L153.5 159.8M243.1 165.7L153.5 164.2M236.7 146.4L153.5 150.6M243.1 151.1L153.5 155.3M219.8 157.3L243.1 156.3M236.7 146.4L243.1 145.8M332.8 409.5L243.1 409.2M253.1 398.5L243.1 399.0M253.1 398.5L243.1 397.3M332.8 387.2L243.1 376.6M332.8 371.7L251.3 365.6M332.8 356.8L243.1 355.1M332.8 362.7L243.1 360.2M251.3 365.6L243.1 365.4M332.8 344.3L251.3 343.7M332.8 350.6L243.1 349.4M332.8 338.2L243.1 337.9M251.3 343.7L243.1 343.7M332.8 326.9L243.1 326.8M332.8 332.2L243.1 332.2M332.8 313.4L243.1 312.7M332.8 317.5L243.1 317.1M332.8 321.7L243.1 321.5M332.8 300.6L274.0 299.9M332.8 303.6L243.1 302.6M332.8 306.6L243.1 305.8M332.8 309.7L243.1 309.0M332.8 290.1L243.1 289.8M332.8 291.8L243.1 291.5M332.8 293.5L243.1 293.1M332.8 295.2L243.1 294.7M332.8 296.9L243.1 296.4M332.8 298.6L243.1 298.0M274.0 299.9L243.1 299.6M332.8 278.1L243.1 278.5M332.8 279.8L243.1 280.1M332.8 281.5L243.1 281.7M332.8 283.2L243.1 283.4M332.8 285.0L243.1 285.0M332.8 286.7L243.1 286.6M332.8 288.4L243.1 288.2M332.8 267.3L243.1 268.2M332.8 269.1L243.1 270.0M332.8 270.9L243.1 271.7M332.8 272.7L243.1 273.4M332.8 274.5L243.1 275.1M332.8 276.3L243.1 276.8M299.5 256.0L243.1 256.8M332.8 257.5L243.1 258.7M332.8 259.5L243.1 260.6M332.8 261.4L243.1 262.6M332.8 263.4L243.1 264.5M332.8 265.4L243.1 266.5M332.8 245.5L243.1 246.8M332.8 247.5L243.1 248.8M332.8 249.5L243.1 250.8M332.8 251.5L243.1 252.8M332.8 253.5L243.1 254.8M299.5 256.0L332.8 255.5M279.4 234.1L243.1 234.5M332.8 235.4L243.1 236.6M332.8 237.4L243.1 238.6M332.8 239.4L243.1 240.7M332.8 241.4L243.1 242.7M332.8 243.5L243.1 244.8M332.8 223.9L243.1 225.3M332.8 226.3L243.1 227.6M332.8 228.6L243.1 230.0M332.8 230.9L243.1 232.3M279.4 234.1L332.8 233.3M332.8 213.5L243.1 212.4M332.8 217.1L243.1 217.6M332.8 220.7L243.1 222.8M332.8 204.6L303.5 201.2M303.5 201.2L324.8 190.2M324.8 190.2L332.8 187.4M332.8 171.1L308.4 168.3M311.4 157.3L243.1 165.7M308.4 168.3L332.8 165.3M292.7 146.4L243.1 151.1M332.8 148.2L243.1 156.3M311.4 157.3L332.8 155.5M332.8 135.4L243.1 145.8M292.7 146.4L332.8 141.7M332.8 409.5L374.8 398.5M374.8 398.5L335.2 387.6M335.2 387.6L332.8 387.2M422.4 375.6L332.8 371.7M422.4 356.8L332.8 356.8M422.4 362.7L332.8 362.7M422.4 344.3L332.8 344.3M422.4 350.6L332.8 350.6M422.4 338.2L332.8 338.2M422.4 321.9L385.0 321.8M422.4 327.1L332.8 326.9M422.4 332.2L332.8 332.2M422.4 314.0L332.8 313.4M422.4 318.0L332.8 317.5M385.0 321.8L332.8 321.7M422.4 301.7L332.8 300.6M422.4 304.6L332.8 303.6M422.4 307.5L332.8 306.6M422.4 310.3L332.8 309.7M422.4 290.4L332.8 290.1M422.4 292.1L332.8 291.8M422.4 293.9L332.8 293.5M422.4 295.7L332.8 295.2M422.4 297.5L332.8 296.9M422.4 299.2L332.8 298.6M368.7 277.9L332.8 278.1M422.4 279.5L332.8 279.8M422.4 281.3L332.8 281.5M422.4 283.1L332.8 283.2M422.4 284.9L332.8 285.0M422.4 286.8L332.8 286.7M422.4 288.6L332.8 288.4M363.6 267.0L332.8 267.3M422.4 268.2L332.8 269.1M422.4 270.1L332.8 270.9M422.4 272.0L332.8 272.7M422.4 273.8L332.8 274.5M422.4 275.7L332.8 276.3M368.7 277.9L422.4 277.6M422.4 256.3L332.8 257.5M422.4 258.3L332.8 259.5M422.4 260.3L332.8 261.4M422.4 262.3L332.8 263.4M422.4 264.3L332.8 265.4M363.6 267.0L422.4 266.2M362.0 245.0L332.8 245.5M422.4 246.2L332.8 247.5M422.4 248.2L332.8 249.5M422.4 250.2L332.8 251.5M422.4 252.2L332.8 253.5M422.4 254.2L332.8 255.5M422.4 234.3L332.8 235.4M422.4 236.2L332.8 237.4M422.4 238.2L332.8 239.4M422.4 240.2L332.8 241.4M422.4 242.2L332.8 243.5M362.0 245.0L422.4 244.2M422.4 223.9L332.8 223.9M422.4 226.0L332.8 226.3M422.4 228.1L332.8 228.6M422.4 230.1L332.8 230.9M422.4 232.2L332.8 233.3M422.4 213.2L332.8 213.5M422.4 217.0L332.8 217.1M422.4 220.8L332.8 220.7M422.4 204.2L332.8 204.6M422.4 194.0L361.3 190.2M361.3 190.2L332.8 187.4M422.4 171.6L332.8 171.1M422.4 167.2L332.8 165.3M422.4 150.1L332.8 148.2M422.4 156.8L332.8 155.5M422.4 137.6L332.8 135.4M422.4 143.6L332.8 141.7M444.8 409.5L512.0 399.4M512.0 393.6L497.1 387.6M497.1 387.6L432.3 376.6M432.3 376.6L422.4 375.6M512.0 357.9L422.4 356.8M512.0 364.4L422.4 362.7M512.0 344.8L422.4 344.3M512.0 351.4L422.4 350.6M512.0 338.4L422.4 338.2M512.0 321.9L422.4 321.9M512.0 327.1L422.4 327.1M512.0 332.2L422.4 332.2M512.0 314.0L422.4 314.0M512.0 318.0L422.4 318.0M512.0 301.7L422.4 301.7M512.0 304.6L422.4 304.6M512.0 307.5L422.4 307.5M512.0 310.3L422.4 310.3M512.0 290.0L422.4 290.4M512.0 291.8L422.4 292.1M512.0 293.7L422.4 293.9M512.0 295.5L422.4 295.7M512.0 297.4L422.4 297.5M512.0 299.2L422.4 299.2M512.0 278.6L422.4 279.5M512.0 280.5L422.4 281.3M512.0 282.4L422.4 283.1M512.0 284.3L422.4 284.9M512.0 286.2L422.4 286.8M512.0 288.1L422.4 288.6M512.0 267.0L422.4 268.2M512.0 269.0L422.4 270.1M512.0 270.9L422.4 272.0M512.0 272.8L422.4 273.8M512.0 274.8L422.4 275.7M512.0 276.7L422.4 277.6M442.8 256.0L422.4 256.3M512.0 257.1L422.4 258.3M512.0 259.1L422.4 260.3M512.0 261.1L422.4 262.3M512.0 263.1L422.4 264.3M512.0 265.0L422.4 266.2M500.6 245.0L422.4 246.2M512.0 246.9L422.4 248.2M512.0 248.9L422.4 250.2M512.0 251.0L422.4 252.2M512.0 253.0L422.4 254.2M442.8 256.0L512.0 255.1M436.6 234.1L422.4 234.3M512.0 235.0L422.4 236.2M512.0 237.0L422.4 238.2M512.0 239.0L422.4 240.2M512.0 240.9L422.4 242.2M512.0 242.9L422.4 244.2M500.6 245.0L512.0 244.9M512.0 223.5L422.4 223.9M512.0 225.4L422.4 226.0M512.0 227.3L422.4 228.1M512.0 229.2L422.4 230.1M512.0 231.1L422.4 232.2M436.6 234.1L512.0 233.1M512.0 213.8L422.4 213.2M512.0 217.1L422.4 217.0M512.0 220.4L422.4 220.8M512.0 206.1L422.4 204.2M443.1 190.2L422.4 194.0M443.1 190.2L503.6 179.2M503.6 179.2L512.0 178.1M445.4 168.3L422.4 171.6M512.0 162.8L430.4 157.3M445.4 168.3L422.4 167.2M512.0 150.2L457.4 146.4M512.0 155.7L422.4 150.1M430.4 157.3L422.4 156.8M512.0 144.2L422.4 137.6M457.4 146.4L422.4 143.6M565.8 409.5L512.0 399.4M519.1 387.6L512.0 393.6M519.1 387.6L583.7 376.6M583.7 376.6L601.6 374.8M601.6 356.8L512.0 357.9M601.6 362.7L512.0 364.4M601.6 344.3L512.0 344.8M601.6 350.6L512.0 351.4M601.6 338.2L512.0 338.4M536.9 321.8L512.0 321.9M601.6 326.9L512.0 327.1M601.6 332.2L512.0 332.2M601.6 313.0L512.0 314.0M601.6 317.3L512.0 318.0M536.9 321.8L601.6 321.6M601.6 300.1L512.0 301.7M601.6 303.2L512.0 304.6M601.6 306.2L512.0 307.5M601.6 309.3L512.0 310.3M590.0 288.9L512.0 290.0M601.6 290.6L512.0 291.8M601.6 292.5L512.0 293.7M601.6 294.4L512.0 295.5M601.6 296.2L512.0 297.4M601.6 298.1L512.0 299.2M559.9 277.9L512.0 278.6M601.6 279.2L512.0 280.5M601.6 281.1L512.0 282.4M601.6 283.0L512.0 284.3M601.6 284.9L512.0 286.2M601.6 286.8L512.0 288.1M590.0 288.9L601.6 288.7M516.6 267.0L512.0 267.0M601.6 267.7L512.0 269.0M601.6 269.6L512.0 270.9M601.6 271.5L512.0 272.8M601.6 273.4L512.0 274.8M601.6 275.4L512.0 276.7M559.9 277.9L601.6 277.3M600.9 256.0L512.0 257.1M601.6 257.9L512.0 259.1M601.6 259.9L512.0 261.1M601.6 261.8L512.0 263.1M601.6 263.8L512.0 265.0M516.6 267.0L601.6 265.7M601.6 245.7L512.0 246.9M601.6 247.8L512.0 248.9M601.6 249.8L512.0 251.0M601.6 251.9L512.0 253.0M601.6 253.9L512.0 255.1M600.9 256.0L601.6 256.0M572.8 234.1L512.0 235.0M601.6 235.6L512.0 237.0M601.6 237.6L512.0 239.0M601.6 239.7L512.0 240.9M601.6 241.7L512.0 242.9M601.6 243.7L512.0 244.9M601.6 223.1L512.0 223.5M601.6 224.9L512.0 225.4M601.6 226.6L512.0 227.3M601.6 228.4L512.0 229.2M601.6 230.2L512.0 231.1M601.6 231.9L512.0 233.1M572.8 234.1L601.6 233.7M601.6 212.5L512.0 213.8M601.6 216.0L512.0 217.1M601.6 219.6L512.0 220.4M601.6 202.5L575.3 201.2M601.6 207.6L512.0 206.1M575.3 201.2L598.2 190.2M598.2 190.2L601.6 189.8M561.7 168.3L512.0 178.1M601.6 163.7L541.2 157.3M561.7 168.3L512.0 162.8M601.6 153.5L512.0 150.2M541.2 157.3L512.0 155.7M601.6 144.5L512.0 144.2M620.2 409.5L606.1 398.5M651.1 409.5L650.9 398.5M682.0 409.5L691.2 401.3M606.1 398.5L618.4 387.6M650.9 398.5L674.4 387.6M618.4 387.6L655.4 376.6M674.4 387.6L691.2 382.9M639.0 365.6L601.6 374.8M655.4 376.6L691.2 369.3M633.9 354.7L601.6 356.8M691.2 356.7L601.6 362.7M639.0 365.6L691.2 362.0M615.4 343.7L601.6 344.3M691.2 346.1L601.6 350.6M633.9 354.7L691.2 351.4M691.2 335.1L601.6 338.2M615.4 343.7L691.2 340.7M691.2 324.2L601.6 326.9M691.2 329.6L601.6 332.2M670.3 310.8L601.6 313.0M691.2 314.7L601.6 317.3M691.2 319.2L601.6 321.6M605.7 299.9L601.6 300.1M662.7 299.9L601.6 303.2M691.2 301.9L601.6 306.2M691.2 306.0L601.6 309.3M670.3 310.8L691.2 310.2M691.2 288.9L601.6 290.6M691.2 290.6L601.6 292.5M691.2 292.3L601.6 294.4M691.2 294.0L601.6 296.2M691.2 295.7L601.6 298.1M605.7 299.9L691.2 297.3M662.7 299.9L691.2 299.0M684.5 277.9L601.6 279.2M691.2 279.7L601.6 281.1M691.2 281.5L601.6 283.0M691.2 283.4L601.6 284.9M691.2 285.2L601.6 286.8M691.2 287.1L601.6 288.7M663.8 267.0L601.6 267.7M691.2 268.5L601.6 269.6M691.2 270.4L601.6 271.5M691.2 272.2L601.6 273.4M691.2 274.1L601.6 275.4M691.2 276.0L601.6 277.3M684.5 277.9L691.2 277.8M691.2 257.3L601.6 257.9M691.2 259.2L601.6 259.9M691.2 261.1L601.6 261.8M691.2 262.9L601.6 263.8M691.2 264.8L601.6 265.7M663.8 267.0L691.2 266.7M691.2 245.1L601.6 245.7M691.2 247.2L601.6 247.8M691.2 249.2L601.6 249.8M691.2 251.3L601.6 251.9M691.2 253.4L601.6 253.9M691.2 255.4L601.6 256.0M691.2 235.0L601.6 235.6M691.2 237.0L601.6 237.6M691.2 239.0L601.6 239.7M691.2 241.1L601.6 241.7M691.2 243.1L601.6 243.7M676.3 223.1L601.6 224.9M691.2 224.7L601.6 226.6M691.2 226.8L601.6 228.4M691.2 228.8L601.6 230.2M691.2 230.9L601.6 231.9M691.2 232.9L601.6 233.7M691.2 212.9L601.6 212.5M691.2 215.3L601.6 216.0M691.2 217.7L601.6 219.6M691.2 220.2L601.6 223.1M676.3 223.1L691.2 222.6M691.2 201.7L678.0 201.2M691.2 205.6L601.6 202.5M691.2 209.4L601.6 207.6M678.0 201.2L676.1 190.2M676.1 190.2L691.2 189.1M691.2 183.4L601.6 189.8M691.2 160.8L601.6 163.7M691.2 152.3L601.6 153.5M691.2 145.5L601.6 144.5M702.5 398.5L691.2 401.3M761.0 409.5L780.9 405.1M702.5 398.5L780.9 387.6M751.0 376.6L691.2 382.9M758.5 365.6L691.2 369.3M751.0 376.6L780.9 374.6M738.4 354.7L691.2 356.7M780.9 358.8L691.2 362.0M758.5 365.6L780.9 365.0M769.1 343.7L691.2 346.1M780.9 348.2L691.2 351.4M738.4 354.7L780.9 353.0M780.9 332.8L691.2 335.1M780.9 338.1L691.2 340.7M769.1 343.7L780.9 343.4M780.9 322.0L691.2 324.2M780.9 327.4L691.2 329.6M780.9 312.4L691.2 314.7M780.9 317.2L691.2 319.2M732.0 299.9L691.2 301.9M780.9 302.0L691.2 306.0M780.9 307.3L691.2 310.2M692.4 288.9L691.2 288.9M741.6 288.9L691.2 290.6M780.9 289.3L691.2 292.3M780.9 291.2L691.2 294.0M780.9 293.1L691.2 295.7M780.9 294.9L691.2 297.3M780.9 296.8L691.2 299.0M732.0 299.9L780.9 298.7M780.9 278.2L691.2 279.7M780.9 279.8L691.2 281.5M780.9 281.3L691.2 283.4M780.9 282.9L691.2 285.2M780.9 284.5L691.2 287.1M692.4 288.9L780.9 286.1M741.6 288.9L780.9 287.6M780.9 267.8L691.2 268.5M780.9 269.6L691.2 270.4M780.9 271.3L691.2 272.2M780.9 273.0L691.2 274.1M780.9 274.8L691.2 276.0M780.9 276.5L691.2 277.8M780.9 257.3L691.2 257.3M780.9 259.1L691.2 259.2M780.9 260.8L691.2 261.1M780.9 262.6L691.2 262.9M780.9 264.3L691.2 264.8M780.9 266.1L691.2 266.7M780.9 245.3L691.2 245.1M780.9 247.4L691.2 247.2M780.9 249.4L691.2 249.2M780.9 251.5L691.2 251.3M780.9 253.5L691.2 253.4M780.9 255.5L691.2 255.4M780.9 235.2L691.2 235.0M780.9 237.2L691.2 237.0M780.9 239.2L691.2 239.0M780.9 241.3L691.2 241.1M780.9 243.3L691.2 243.1M780.9 223.7L727.1 223.1M780.9 225.6L691.2 224.7M780.9 227.5L691.2 226.8M780.9 229.4L691.2 228.8M780.9 231.3L691.2 230.9M780.9 233.2L691.2 232.9M780.9 212.4L691.2 212.9M780.9 215.3L691.2 215.3M780.9 218.2L691.2 217.7M780.9 221.1L691.2 220.2M727.1 223.1L691.2 222.6M780.9 203.0L691.2 201.7M780.9 206.1L691.2 205.6M780.9 209.3L691.2 209.4M780.9 195.1L753.1 190.2M753.1 190.2L780.9 188.4M780.9 183.5L691.2 189.1M765.4 179.2L691.2 183.4M765.4 179.2L780.9 177.1M780.9 158.2L691.2 160.8M780.9 151.5L691.2 152.3M780.9 145.1L691.2 145.5M870.5 398.5L780.9 405.1M870.5 382.9L780.9 387.6M870.5 370.0L780.9 374.6M857.5 354.7L780.9 358.8M870.5 361.2L780.9 365.0M870.5 345.4L780.9 348.2M870.5 349.8L780.9 353.0M857.5 354.7L870.5 354.2M870.5 335.7L780.9 338.1M870.5 340.7L780.9 343.4M788.3 321.8L780.9 322.0M870.5 325.2L780.9 327.4M870.5 330.5L780.9 332.8M852.0 310.8L780.9 312.4M870.5 315.2L780.9 317.2M788.3 321.8L870.5 320.1M820.7 299.9L780.9 302.0M870.5 303.3L780.9 307.3M852.0 310.8L870.5 310.2M798.8 288.9L780.9 289.3M870.5 289.3L780.9 291.2M870.5 291.2L780.9 293.1M870.5 293.1L780.9 294.9M870.5 295.0L780.9 296.8M870.5 297.0L780.9 298.7M820.7 299.9L870.5 298.9M807.0 277.9L780.9 278.2M870.5 278.8L780.9 279.8M870.5 280.3L780.9 281.3M870.5 281.8L780.9 282.9M870.5 283.2L780.9 284.5M870.5 284.7L780.9 286.1M870.5 286.2L780.9 287.6M798.8 288.9L870.5 287.7M870.5 267.3L780.9 267.8M870.5 269.0L780.9 269.6M870.5 270.6L780.9 271.3M870.5 272.3L780.9 273.0M870.5 273.9L780.9 274.8M870.5 275.6L780.9 276.5M807.0 277.9L870.5 277.2M870.5 257.3L780.9 257.3M870.5 259.0L780.9 259.1M870.5 260.7L780.9 260.8M870.5 262.3L780.9 262.6M870.5 264.0L780.9 264.3M870.5 265.7L780.9 266.1M870.5 245.5L780.9 245.3M870.5 247.5L780.9 247.4M870.5 249.5L780.9 249.4M870.5 251.6L780.9 251.5M870.5 253.6L780.9 253.5M870.5 255.6L780.9 255.5M870.5 235.3L780.9 235.2M870.5 237.4L780.9 237.2M870.5 239.4L780.9 239.2M870.5 241.4L780.9 241.3M870.5 243.5L780.9 243.3M870.5 224.0L780.9 223.7M870.5 225.9L780.9 225.6M870.5 227.8L780.9 227.5M870.5 229.6L780.9 229.4M870.5 231.5L780.9 231.3M870.5 233.4L780.9 233.2M870.5 214.6L780.9 212.4M870.5 217.0L780.9 215.3M870.5 219.5L780.9 218.2M870.5 221.9L780.9 221.1M870.5 203.3L780.9 203.0M870.5 207.7L780.9 206.1M870.5 212.1L780.9 209.3M870.5 197.9L780.9 195.1M870.5 182.5L780.9 188.4M837.7 179.2L780.9 183.5M837.7 179.2L870.5 174.8M842.7 168.3L780.9 177.1M842.7 168.3L780.9 158.2M870.5 147.6L819.3 146.4M870.5 154.1L780.9 151.5M819.3 146.4L780.9 145.1" fill="none" stroke="#fff" stroke-opacity="0.6" stroke-width="0.5"/>
<g clip-path="url(#cp)" fill="none" stroke="#000" stroke-width="0.75" stroke-opacity="0.88"><path d="M137.7 365.6L169.3 365.6M137.8 356.1L169.2 353.3M137.8 345.1L169.2 342.3M137.7 332.8L169.3 332.8M137.7 321.8L169.3 321.8M137.7 310.8L169.3 310.8M137.7 299.3L169.3 300.4M142.1 299.5L139.9 295.0M137.8 287.2L169.2 290.5M137.8 287.2L134.1 278.1M137.8 276.3L169.2 279.6M137.8 276.3L134.1 267.1M137.8 265.3L169.2 268.6M137.8 265.3L134.1 256.1M137.7 255.0L169.3 257.0M137.7 255.0L133.6 246.0M137.7 243.9L169.3 246.1M137.7 243.9L133.7 234.9M137.7 233.0L169.3 235.2M137.7 233.0L133.7 223.9M137.8 221.7L169.2 224.5M137.8 221.7L133.9 212.6M137.7 211.6L169.3 212.7M137.7 211.6L133.4 202.7M137.7 200.9L169.3 201.5M137.7 200.9L133.2 192.1M137.7 189.4L169.3 191.0M137.7 189.4L133.5 180.4M142.1 189.6L137.9 180.6M137.7 178.4L169.3 180.1M137.7 178.4L133.5 169.5M142.1 178.7L137.9 169.7M137.7 167.5L169.3 169.1M137.7 167.5L133.5 158.5M142.1 167.7L137.9 158.7M137.7 156.5L169.3 158.1M137.7 156.5L133.5 147.5M142.1 156.7L137.9 147.8M137.7 145.5L169.3 147.2M137.7 145.5L133.5 136.6M142.1 145.8L137.9 136.8M137.7 134.3L169.3 136.5M137.7 134.3L133.7 125.2M142.1 134.6L138.1 125.6M137.7 123.3L169.3 125.5M137.7 123.3L133.7 114.3M142.1 123.6L138.1 114.6M137.7 112.4L169.3 114.6M137.7 112.4L133.7 103.3M142.1 112.7L138.1 103.6M137.7 101.4L169.3 103.6M137.7 101.4L133.7 92.4M142.1 101.7L138.1 92.7M258.9 410.9L227.4 408.1M254.5 410.5L256.4 415.1M258.9 399.7L227.4 397.3M254.5 399.4L256.5 403.9M258.9 388.8L227.4 386.4M254.5 388.4L256.5 393.0M258.9 378.1L227.4 375.1M254.5 377.7L256.4 382.2M258.6 368.8L227.6 362.5M254.3 367.9L255.7 372.7M231.0 344.6L255.3 364.7M229.6 351.9L256.6 335.5M227.4 334.2L258.9 331.3M227.3 321.5L258.9 322.1M231.7 321.5L229.5 317.1M227.3 310.1L258.9 311.5M231.7 310.3L229.6 305.9M227.4 298.6L258.9 301.2M231.8 298.9L229.8 294.4M227.5 286.7L258.8 291.1M227.5 286.7L224.1 277.4M227.4 276.1L258.8 279.7M227.4 276.1L223.8 266.9M227.4 265.4L258.8 268.5M227.4 265.4L223.6 256.2M227.4 254.2L258.8 257.8M227.4 254.2L223.8 245.0M227.7 241.8L258.6 248.3M227.7 241.8L224.9 232.3M227.7 230.5L258.5 237.6M227.7 230.5L225.1 221.0M227.6 220.3L258.7 225.9M227.6 220.3L224.6 210.9M227.4 210.6L258.8 213.7M227.4 210.6L223.6 201.4M231.8 211.0L229.9 206.4M227.4 199.7L258.9 202.7M227.4 199.7L223.6 190.6M231.8 200.1L228.0 191.0M227.3 189.4L258.9 191.0M227.3 189.4L223.2 180.4M231.7 189.6L227.6 180.6M227.3 178.4L258.9 180.1M227.3 178.4L223.2 169.5M231.7 178.7L227.6 169.7M236.1 178.9L234.0 174.4M227.3 167.4L258.9 169.2M227.3 167.4L223.2 158.4M231.7 167.6L227.6 158.7M236.1 167.9L234.1 163.4M227.3 156.4L258.9 158.2M227.3 156.4L223.2 147.5M231.7 156.7L227.6 147.7M227.3 145.5L258.9 147.2M227.3 145.5L223.2 136.6M231.7 145.8L227.6 136.8M227.4 134.2L258.9 136.6M227.4 134.2L223.4 125.2M231.8 134.6L227.8 125.5M227.4 123.1L258.9 125.7M227.4 123.1L223.5 114.0M231.8 123.5L227.8 114.4M227.4 112.2L258.9 114.8M227.4 112.2L223.5 103.1M231.8 112.5L227.8 103.4M227.4 101.2L258.9 103.8M227.4 101.2L223.5 92.1M231.8 101.6L227.8 92.5M317.9 404.1L347.6 414.9M321.1 409.2L344.4 387.8M329.2 372.2L336.3 403.0M317.3 373.4L348.2 379.8M317.2 362.8L348.3 368.5M317.8 359.8L347.7 349.6M317.0 344.7L348.5 342.7M316.9 332.8L348.6 332.8M317.0 320.4L348.5 323.1M321.4 320.8L319.4 316.3M317.1 309.0L348.4 312.6M321.4 309.5L319.6 304.9M317.1 297.4L348.4 302.3M321.5 298.1L319.9 293.4M317.2 286.3L348.3 291.5M317.2 286.3L314.0 276.9M317.3 274.5L348.2 281.3M317.3 274.5L314.7 265.0M317.7 262.1L347.8 271.8M317.7 262.1L316.0 252.3M320.4 246.2L345.1 265.8M320.4 246.2L322.2 236.4M326.3 230.6L339.2 259.5M326.3 230.6L332.4 222.8M326.1 219.8L339.4 248.4M326.1 219.8L332.0 211.8M327.9 223.7L330.9 219.8M318.4 216.5L347.1 229.7M318.4 216.5L317.9 206.6M317.2 209.5L348.3 214.8M317.2 209.5L314.0 200.1M317.0 199.6L348.5 202.8M317.0 199.6L313.3 190.4M321.4 200.0L319.5 195.4M317.0 189.0L348.5 191.4M317.0 189.0L313.0 179.9M321.4 189.3L317.4 180.3M317.0 178.2L348.5 180.3M317.0 178.2L312.9 169.2M321.4 178.5L317.3 169.5M317.0 167.5L348.5 169.1M317.0 167.5L312.8 158.5M321.4 167.7L317.2 158.7M317.0 156.4L348.5 158.2M317.0 156.4L312.8 147.5M321.4 156.7L317.2 147.7M317.0 145.7L348.5 147.0M317.0 145.7L312.7 136.7M321.4 145.9L319.2 141.4M317.0 134.4L348.5 136.4M317.0 134.4L312.9 125.4M321.4 134.7L319.3 130.1M317.0 123.4L348.5 125.4M317.0 123.4L312.9 114.4M321.4 123.7L319.3 119.2M317.0 112.3L348.5 114.6M317.0 112.3L313.0 103.2M321.4 112.6L319.4 108.1M317.0 101.3L348.5 103.7M317.0 101.3L313.0 92.3M321.4 101.7L319.4 97.1M406.7 407.6L438.1 411.4M406.6 397.0L438.1 400.0M406.6 387.0L438.2 388.2M406.6 375.4L438.1 377.8M407.1 369.7L437.6 361.6M406.9 358.1L437.8 351.3M409.3 352.5L435.5 334.9M408.1 339.6L436.6 325.9M406.6 320.9L438.2 322.7M406.6 309.4L438.1 312.3M411.0 309.8L409.1 305.2M407.0 296.2L437.7 303.5M411.3 297.2L410.1 292.4M407.6 283.3L437.2 294.5M407.6 283.3L406.3 273.5M408.0 271.3L436.7 284.5M408.0 271.3L407.5 261.4M409.7 257.5L435.0 276.4M409.7 257.5L411.2 247.7M419.9 240.4L424.8 271.6M419.9 240.4L427.8 234.4M434.9 235.5L409.8 254.6M434.9 235.5L443.9 239.6M431.4 238.1L435.9 240.2M436.1 226.2L408.7 241.9M436.1 226.2L444.5 231.5M432.3 228.4L436.5 231.1M432.2 210.7L412.6 235.5M432.2 210.7L441.9 212.5M407.7 206.2L437.0 218.1M407.7 206.2L406.7 196.4M411.8 207.9L411.3 202.9M406.7 198.8L438.0 203.5M406.7 198.8L403.4 189.5M411.1 199.5L409.4 194.8M406.7 188.5L438.1 191.9M406.7 188.5L403.0 179.3M411.0 189.0L409.2 184.4M406.7 177.7L438.1 180.8M406.7 177.7L402.9 168.5M411.0 178.1L407.3 169.0M406.6 167.1L438.1 169.4M406.6 167.1L402.6 158.1M411.0 167.5L407.0 158.4M406.6 156.3L438.1 158.3M406.6 156.3L402.5 147.3M411.0 156.6L406.9 147.6M406.6 145.7L438.2 147.0M406.6 145.7L402.3 136.7M411.0 145.9L406.7 136.9M406.6 135.2L438.2 135.6M406.6 135.2L402.0 126.4M411.0 135.3L408.7 130.9M406.6 124.2L438.2 124.6M406.6 124.2L402.0 115.4M411.0 124.3L408.7 119.9M406.6 112.6L438.2 114.3M406.6 112.6L402.4 103.6M411.0 112.8L408.9 108.3M406.6 101.6L438.2 103.4M406.6 101.6L402.4 92.6M411.0 101.9L408.9 97.4M496.2 409.5L527.8 409.5M527.8 398.5L496.2 398.5M523.4 398.5L525.7 402.9M496.2 387.6L527.8 387.6M496.2 376.5L527.8 376.7M496.2 365.1L527.8 366.2M496.6 351.3L527.4 358.0M506.2 329.0L517.8 358.4M497.4 338.7L526.6 326.8M496.2 321.0L527.8 322.6M496.4 308.1L527.6 313.5M500.8 308.9L499.2 304.2M498.8 291.1L525.2 308.6M502.5 293.6L503.0 288.6M510.3 273.2L513.7 304.6M510.3 273.2L518.5 267.6M520.5 264.6L503.5 291.2M520.5 264.6L530.4 265.4M526.4 260.4L497.6 273.5M526.4 260.4L534.2 266.4M527.3 251.9L496.7 260.1M527.3 251.9L534.0 259.2M523.0 253.0L526.4 256.7M527.4 241.3L496.6 248.7M527.4 241.3L533.9 248.8M523.1 242.4L529.6 249.8M527.3 230.2L496.7 237.9M527.3 230.2L534.0 237.6M523.1 231.3L529.7 238.7M526.8 217.6L497.2 228.6M526.8 217.6L534.2 224.1M522.7 219.1L526.4 222.4M502.9 199.2L521.1 225.1M502.9 199.2L507.4 190.4M496.4 198.6L527.6 203.7M496.4 198.6L493.2 189.2M500.7 199.3L499.2 194.6M496.3 188.5L527.7 191.9M496.3 188.5L492.6 179.3M500.7 189.0L498.8 184.4M496.3 177.6L527.7 180.9M496.3 177.6L492.6 168.4M500.7 178.0L497.0 168.9M496.3 167.0L527.7 169.6M496.3 167.0L492.3 157.9M500.6 167.4L496.7 158.3M496.2 156.3L527.8 158.3M496.2 156.3L492.2 147.3M500.6 156.6L496.5 147.6M496.2 145.5L527.8 147.2M496.2 145.5L492.1 136.5M500.6 145.7L496.5 136.7M496.2 134.4L527.8 136.4M496.2 134.4L492.2 125.4M500.6 134.7L496.5 125.6M496.2 123.4L527.8 125.4M496.2 123.4L492.2 114.4M500.6 123.7L498.6 119.2M496.2 112.3L527.8 114.6M496.2 112.3L492.2 103.2M500.6 112.6L498.6 108.1M496.2 101.3L527.8 103.7M496.2 101.3L492.2 92.3M500.6 101.7L498.6 97.1M585.8 410.1L617.4 408.9M585.8 399.1L617.4 398.0M585.8 388.4L617.4 386.7M585.9 377.6L617.4 375.6M585.8 355.5L617.4 353.9M585.9 344.9L617.4 342.6M585.9 334.6L617.3 330.9M585.8 321.5L617.4 322.1M615.6 303.4L587.7 318.3M611.7 305.5L615.8 308.2M614.8 291.1L588.5 308.6M611.1 293.5L615.5 295.9M616.4 283.2L586.9 294.6M616.4 283.2L623.8 289.6M617.0 274.3L586.2 281.5M617.0 274.3L623.5 281.8M612.7 275.3L616.0 279.1M617.0 263.4L586.2 270.6M617.0 263.4L623.5 270.8M612.7 264.4L619.2 271.8M617.1 252.6L586.2 259.4M617.1 252.6L623.5 260.1M612.8 253.6L619.2 261.1M608.5 254.5L611.7 258.3M617.0 241.2L586.3 248.9M617.0 241.2L623.6 248.6M612.7 242.3L619.3 249.6M608.4 243.3L611.7 247.0M616.9 229.8L586.4 238.3M616.9 229.8L623.7 237.0M612.6 231.0L619.4 238.2M615.6 215.7L587.7 230.5M615.6 215.7L623.8 221.2M611.7 217.8L615.8 220.5M588.1 204.0L615.2 220.3M588.1 204.0L588.6 194.1M591.9 206.3L592.1 201.3M586.1 198.3L617.2 204.0M586.1 198.3L583.1 188.9M585.9 188.5L617.3 191.9M585.9 188.5L582.2 179.3M590.3 189.0L588.4 184.4M585.9 177.8L617.4 180.7M585.9 177.8L582.1 168.7M590.3 178.2L588.4 173.7M585.9 167.1L617.4 169.4M585.9 167.1L581.9 158.1M590.3 167.5L588.3 162.9M585.9 156.2L617.4 158.5M585.9 156.2L581.9 147.1M590.3 156.5L588.3 152.0M585.9 145.3L617.4 147.4M585.9 145.3L581.8 136.3M590.2 145.6L586.2 136.6M585.8 134.5L617.4 136.3M585.8 134.5L581.7 125.5M590.2 134.8L586.1 125.8M585.8 123.5L617.4 125.3M585.8 123.5L581.7 114.6M590.2 123.8L588.2 119.3M585.9 112.3L617.4 114.6M585.9 112.3L581.9 103.2M590.3 112.6L588.3 108.1M585.9 101.3L617.4 103.7M585.9 101.3L581.9 92.3M590.3 101.7L588.3 97.1M706.6 405.7L675.9 413.3M702.3 406.7L705.6 410.4M675.8 401.7L706.7 395.3M675.7 390.4L706.8 384.8M675.5 375.6L707.0 377.6M675.5 365.8L707.0 365.5M675.5 355.4L707.0 354.0M679.9 355.2L677.3 350.9M675.5 344.9L707.0 342.5M679.9 344.6L677.2 340.4M675.5 334.2L707.0 331.3M679.9 333.8L677.2 329.7M675.5 323.5L707.0 320.1M706.0 305.2L676.5 316.4M701.9 306.8L705.6 310.1M706.8 297.1L675.7 302.6M706.8 297.1L712.9 304.9M706.8 286.3L675.7 291.5M706.8 286.3L712.9 294.1M706.9 275.6L675.6 280.2M706.9 275.6L712.8 283.6M702.5 276.3L705.5 280.2M706.8 264.4L675.7 269.5M706.8 264.4L712.8 272.3M702.5 265.1L708.5 273.0M706.8 253.3L675.7 258.7M706.8 253.3L712.9 261.1M702.5 254.0L708.6 261.8M706.6 241.4L675.9 248.7M706.6 241.4L713.2 248.8M702.3 242.4L708.9 249.9M706.1 228.8L676.4 239.3M706.1 228.8L713.4 235.5M702.0 230.3L705.6 233.6M700.4 210.2L682.1 236.0M700.4 210.2L710.2 211.4M677.3 204.7L705.2 219.6M677.3 204.7L677.3 194.8M675.7 198.4L706.8 204.0M675.7 198.4L672.7 188.9M680.0 199.1L678.5 194.4M675.5 188.6L707.0 191.8M675.5 188.6L671.8 179.5M679.9 189.1L678.0 184.5M675.5 178.1L707.0 180.4M675.5 178.1L671.5 169.0M679.9 178.4L677.9 173.9M675.5 167.6L707.0 169.0M675.5 167.6L671.2 158.7M679.9 167.8L677.7 163.3M675.5 156.6L707.0 158.1M675.5 156.6L671.2 147.6M679.9 156.8L677.7 152.3M675.5 145.8L707.0 146.9M675.5 145.8L671.1 136.9M679.9 146.0L677.7 141.5M675.5 134.9L707.0 135.9M675.5 134.9L671.1 126.0M679.9 135.1L677.7 130.6M675.5 124.2L707.0 124.6M675.5 124.2L670.9 115.4M679.9 124.3L677.6 119.9M675.5 113.3L707.0 113.7M675.5 113.3L670.9 104.5M679.9 113.3L677.6 108.9M675.5 102.3L707.0 102.7M675.5 102.3L670.9 93.5M679.9 102.4L677.6 98.0M766.8 416.7L795.0 402.3M766.7 405.5L795.1 391.6M766.8 394.7L795.0 380.4M770.4 388.5L791.3 364.8M765.3 363.0L796.5 368.3M765.1 355.1L796.7 354.3M769.5 355.0L767.0 350.7M765.1 345.2L796.6 342.2M769.5 344.8L766.8 340.7M765.3 335.2L796.5 330.3M769.6 334.5L766.6 330.6M765.2 324.1L796.5 319.5M765.1 311.5L796.7 310.2M796.7 299.2L765.1 300.5M792.3 299.4L794.8 303.6M796.6 287.3L765.2 290.5M796.6 287.3L802.1 295.5M796.5 275.9L765.2 280.0M796.5 275.9L802.3 284.0M792.2 276.5L795.0 280.5M796.5 264.4L765.3 269.6M796.5 264.4L802.5 272.2M792.1 265.1L798.1 272.9M796.4 253.1L765.3 258.9M796.4 253.1L802.6 260.8M792.1 253.9L795.2 257.7M796.0 240.5L765.7 249.5M796.0 240.5L803.0 247.6M791.8 241.8L795.3 245.3M792.7 223.6L769.0 244.5M792.7 223.6L802.0 227.1M775.3 208.3L786.5 237.9M775.3 208.3L781.8 200.9M766.2 206.4L795.6 217.9M766.2 206.4L765.1 196.5M770.3 208.0L769.7 203.0M765.3 198.6L796.5 203.8M765.3 198.6L762.2 189.2M769.6 199.3L768.1 194.6M765.2 188.5L796.6 191.9M765.2 188.5L761.5 179.3M769.5 189.0L767.7 184.4M765.1 178.1L796.6 180.4M765.1 178.1L761.1 169.0M769.5 178.4L765.5 169.4M765.1 168.0L796.7 168.6M765.1 168.0L760.6 159.1M769.5 168.0L765.0 159.2M765.1 156.6L796.7 158.0M765.1 156.6L760.8 147.7M769.5 156.8L765.2 147.9M765.1 145.8L796.7 146.9M765.1 145.8L760.7 136.9M769.5 146.0L767.3 141.5M765.1 135.1L796.7 135.7M765.1 135.1L760.6 126.2M769.5 135.2L767.2 130.7M765.1 124.0L796.7 124.9M765.1 124.0L760.7 115.1M769.5 124.1L767.3 119.7M765.1 112.6L796.7 114.3M765.1 112.6L760.9 103.7M769.5 112.9L767.4 108.4M765.1 101.7L796.7 103.3M765.1 101.7L760.9 92.7M769.5 101.9L767.4 97.4M854.8 410.9L886.2 408.1M854.8 400.1L886.2 397.0M854.7 388.7L886.3 386.5M854.7 376.3L886.3 376.9M854.7 365.1L886.3 366.2M854.9 357.3L886.1 352.0M854.8 345.1L886.2 342.3M854.7 333.9L886.3 331.6M855.0 324.9L886.0 318.7M854.7 309.7L886.3 311.9M886.3 298.8L854.7 301.0M886.2 287.2L854.8 290.5M886.2 276.3L854.8 279.6M886.1 264.6L854.9 269.3M886.1 253.3L854.9 258.7M885.6 240.2L855.4 249.8M881.2 222.4L859.8 245.7M858.9 212.3L882.1 233.9M858.9 212.3L861.5 202.8M855.4 207.7L885.6 216.6M855.4 207.7L853.4 198.0M854.9 199.0L886.1 203.4M854.9 199.0L851.5 189.7M859.2 199.6L857.5 194.9M854.8 188.7L886.2 191.7M854.8 188.7L851.0 179.6M859.2 189.1L857.3 184.5M854.8 177.7L886.2 180.8M854.8 177.7L851.0 168.6M859.2 178.2L855.4 169.0M854.8 166.8L886.2 169.8M854.8 166.8L851.0 157.6M859.2 167.2L855.4 158.0M854.7 156.2L886.3 158.4M854.7 156.2L850.7 147.2M859.1 156.5L855.1 147.5M854.7 145.4L886.3 147.3M854.7 145.4L850.6 136.4M859.1 145.7L855.0 136.7M854.7 134.4L886.3 136.4M854.7 134.4L850.6 125.4M859.1 134.7L855.0 125.7M854.7 123.5L886.3 125.4M854.7 123.5L850.6 114.5M859.1 123.7L857.1 119.2M854.7 112.6L886.3 114.3M854.7 112.6L850.5 103.7M859.1 112.9L857.0 108.4M854.7 101.7L886.3 103.3M854.7 101.7L850.5 92.7M859.1 101.9L857.0 97.4"/><circle cx="153.5" cy="409.5" r="4.6"/><circle cx="153.5" cy="398.5" r="4.6"/><circle cx="153.5" cy="387.6" r="4.6"/><circle cx="153.5" cy="376.6" r="4.6"/><circle cx="601.6" cy="365.6" r="4.6"/></g>
<g stroke="#000" fill="none">
<path d="M153.5 398.5h12.3M870.5 398.5h-12.3M153.5 387.6h12.3M870.5 387.6h-12.3M153.5 376.6h12.3M870.5 376.6h-12.3M153.5 354.7h12.3M870.5 354.7h-12.3M153.5 343.7h12.3M870.5 343.7h-12.3M153.5 332.8h12.3M870.5 332.8h-12.3M153.5 310.8h12.3M870.5 310.8h-12.3M153.5 299.9h12.3M870.5 299.9h-12.3M153.5 288.9h12.3M870.5 288.9h-12.3M153.5 267.0h12.3M870.5 267.0h-12.3M153.5 256.0h12.3M870.5 256.0h-12.3M153.5 245.0h12.3M870.5 245.0h-12.3M153.5 223.1h12.3M870.5 223.1h-12.3M153.5 212.1h12.3M870.5 212.1h-12.3M153.5 201.2h12.3M870.5 201.2h-12.3M153.5 179.2h12.3M870.5 179.2h-12.3M153.5 168.3h12.3M870.5 168.3h-12.3M153.5 157.3h12.3M870.5 157.3h-12.3M153.5 135.4h12.3M870.5 135.4h-12.3M153.5 124.4h12.3M870.5 124.4h-12.3M153.5 113.5h12.3M870.5 113.5h-12.3" stroke-width="0.9"/>
<path d="M153.5 409.5h24.5M870.5 409.5h-24.5M153.5 365.6h24.5M870.5 365.6h-24.5M153.5 321.8h24.5M870.5 321.8h-24.5M153.5 277.9h24.5M870.5 277.9h-24.5M153.5 234.1h24.5M870.5 234.1h-24.5M153.5 190.2h24.5M870.5 190.2h-24.5M153.5 146.4h24.5M870.5 146.4h-24.5M153.5 102.5h24.5M870.5 102.5h-24.5" stroke-width="1.4"/>
<path d="M243.1 102.5v10M243.1 409.5v-10M332.8 102.5v10M332.8 409.5v-10M422.4 102.5v10M422.4 409.5v-10M512.0 102.5v10M512.0 409.5v-10M601.6 102.5v10M601.6 409.5v-10M691.2 102.5v10M691.2 409.5v-10M780.9 102.5v10M780.9 409.5v-10" stroke-width="1.0"/>
<rect x="153.5" y="102.5" width="717.0" height="307.0" stroke-width="1.05"/>
</g>
<text x="144.4" y="414.5" font-size="14.4" text-anchor="end">0</text>
<text x="144.4" y="370.6" font-size="14.4" text-anchor="end">4</text>
<text x="144.4" y="326.8" font-size="14.4" text-anchor="end">8</text>
<text x="144.4" y="282.9" font-size="14.4" text-anchor="end">12</text>
<text x="144.4" y="239.1" font-size="14.4" text-anchor="end">16</text>
<text x="144.4" y="195.2" font-size="14.4" text-anchor="end">20</text>
<text x="144.4" y="151.4" font-size="14.4" text-anchor="end">24</text>
<text x="144.4" y="107.5" font-size="14.4" text-anchor="end">28</text>
<text transform="translate(153.2 434.4) rotate(-45)" font-size="13.2" text-anchor="middle" y="4.6">24_12</text>
<text transform="translate(242.8 434.4) rotate(-45)" font-size="13.2" text-anchor="middle" y="4.6">24_15</text>
<text transform="translate(332.4 434.4) rotate(-45)" font-size="13.2" text-anchor="middle" y="4.6">24_18</text>
<text transform="translate(422.1 434.4) rotate(-45)" font-size="13.2" text-anchor="middle" y="4.6">24_21</text>
<text transform="translate(511.7 434.4) rotate(-45)" font-size="13.2" text-anchor="middle" y="4.6">25_00</text>
<text transform="translate(601.3 434.4) rotate(-45)" font-size="13.2" text-anchor="middle" y="4.6">25_03</text>
<text transform="translate(691.0 434.4) rotate(-45)" font-size="13.2" text-anchor="middle" y="4.6">25_06</text>
<text transform="translate(780.6 434.4) rotate(-45)" font-size="13.2" text-anchor="middle" y="4.6">25_09</text>
<text transform="translate(870.2 434.4) rotate(-45)" font-size="13.2" text-anchor="middle" y="4.6">25_12</text>
<g>
<rect x="904.4" y="395.85" width="19.7" height="2.95" fill="#8420f0"/>
<rect x="904.4" y="392.90" width="19.7" height="2.95" fill="#731cf2"/>
<rect x="904.4" y="389.95" width="19.7" height="2.95" fill="#6318f4"/>
<rect x="904.4" y="387.01" width="19.7" height="2.95" fill="#5214f6"/>
<rect x="904.4" y="384.06" width="19.7" height="2.95" fill="#4210f8"/>
<rect x="904.4" y="381.11" width="19.7" height="2.95" fill="#310cf9"/>
<rect x="904.4" y="378.16" width="19.7" height="2.95" fill="#2108fb"/>
<rect x="904.4" y="375.21" width="19.7" height="2.95" fill="#1004fd"/>
<rect x="904.4" y="372.26" width="19.7" height="2.95" fill="#0000ff"/>
<rect x="904.4" y="369.32" width="19.7" height="2.95" fill="#080efb"/>
<rect x="904.4" y="366.37" width="19.7" height="2.95" fill="#111bf7"/>
<rect x="904.4" y="363.42" width="19.7" height="2.95" fill="#1928f4"/>
<rect x="904.4" y="360.47" width="19.7" height="2.95" fill="#2135f0"/>
<rect x="904.4" y="357.52" width="19.7" height="2.95" fill="#2942ec"/>
<rect x="904.4" y="354.57" width="19.7" height="2.95" fill="#314fe8"/>
<rect x="904.4" y="351.62" width="19.7" height="2.95" fill="#395de5"/>
<rect x="904.4" y="348.68" width="19.7" height="2.95" fill="#4169e1"/>
<rect x="904.4" y="345.73" width="19.7" height="2.95" fill="#3c6ee5"/>
<rect x="904.4" y="342.78" width="19.7" height="2.95" fill="#3873e9"/>
<rect x="904.4" y="339.83" width="19.7" height="2.95" fill="#3478ed"/>
<rect x="904.4" y="336.88" width="19.7" height="2.95" fill="#2f7df0"/>
<rect x="904.4" y="333.93" width="19.7" height="2.95" fill="#2b82f4"/>
<rect x="904.4" y="330.99" width="19.7" height="2.95" fill="#2687f8"/>
<rect x="904.4" y="328.04" width="19.7" height="2.95" fill="#228cfc"/>
<rect x="904.4" y="325.09" width="19.7" height="2.95" fill="#1e91ff"/>
<rect x="904.4" y="322.14" width="19.7" height="2.95" fill="#1a96ff"/>
<rect x="904.4" y="319.19" width="19.7" height="2.95" fill="#169cff"/>
<rect x="904.4" y="316.24" width="19.7" height="2.95" fill="#12a2ff"/>
<rect x="904.4" y="313.29" width="19.7" height="2.95" fill="#0fa8ff"/>
<rect x="904.4" y="310.35" width="19.7" height="2.95" fill="#0baeff"/>
<rect x="904.4" y="307.40" width="19.7" height="2.95" fill="#07b4ff"/>
<rect x="904.4" y="304.45" width="19.7" height="2.95" fill="#03baff"/>
<rect x="904.4" y="301.50" width="19.7" height="2.95" fill="#02bfff"/>
<rect x="904.4" y="298.55" width="19.7" height="2.95" fill="#13c1fc"/>
<rect x="904.4" y="295.60" width="19.7" height="2.95" fill="#24c3fa"/>
<rect x="904.4" y="292.66" width="19.7" height="2.95" fill="#35c5f7"/>
<rect x="904.4" y="289.71" width="19.7" height="2.95" fill="#46c7f5"/>
<rect x="904.4" y="286.76" width="19.7" height="2.95" fill="#57c9f2"/>
<rect x="904.4" y="283.81" width="19.7" height="2.95" fill="#68cbf0"/>
<rect x="904.4" y="280.86" width="19.7" height="2.95" fill="#79cced"/>
<rect x="904.4" y="277.91" width="19.7" height="2.95" fill="#88ceeb"/>
<rect x="904.4" y="274.96" width="19.7" height="2.95" fill="#91d2ed"/>
<rect x="904.4" y="272.02" width="19.7" height="2.95" fill="#99d5ef"/>
<rect x="904.4" y="269.07" width="19.7" height="2.95" fill="#a1d8f0"/>
<rect x="904.4" y="266.12" width="19.7" height="2.95" fill="#aadbf2"/>
<rect x="904.4" y="263.17" width="19.7" height="2.95" fill="#b2def3"/>
<rect x="904.4" y="260.22" width="19.7" height="2.95" fill="#bbe1f5"/>
<rect x="904.4" y="257.27" width="19.7" height="2.95" fill="#c3e4f7"/>
<rect x="904.4" y="254.33" width="19.7" height="2.95" fill="#fffed6"/>
<rect x="904.4" y="251.38" width="19.7" height="2.95" fill="#fffac0"/>
<rect x="904.4" y="248.43" width="19.7" height="2.95" fill="#fff5a5"/>
<rect x="904.4" y="245.48" width="19.7" height="2.95" fill="#fff08b"/>
<rect x="904.4" y="242.53" width="19.7" height="2.95" fill="#ffeb70"/>
<rect x="904.4" y="239.58" width="19.7" height="2.95" fill="#ffe655"/>
<rect x="904.4" y="236.64" width="19.7" height="2.95" fill="#ffe23a"/>
<rect x="904.4" y="233.69" width="19.7" height="2.95" fill="#ffdd1f"/>
<rect x="904.4" y="230.74" width="19.7" height="2.95" fill="#ffd804"/>
<rect x="904.4" y="227.79" width="19.7" height="2.95" fill="#ffd200"/>
<rect x="904.4" y="224.84" width="19.7" height="2.95" fill="#ffcb00"/>
<rect x="904.4" y="221.89" width="19.7" height="2.95" fill="#ffc500"/>
<rect x="904.4" y="218.94" width="19.7" height="2.95" fill="#ffbf00"/>
<rect x="904.4" y="216.00" width="19.7" height="2.95" fill="#ffb900"/>
<rect x="904.4" y="213.05" width="19.7" height="2.95" fill="#ffb200"/>
<rect x="904.4" y="210.10" width="19.7" height="2.95" fill="#ffac00"/>
<rect x="904.4" y="207.15" width="19.7" height="2.95" fill="#ffa600"/>
<rect x="904.4" y="204.20" width="19.7" height="2.95" fill="#ff9a00"/>
<rect x="904.4" y="201.25" width="19.7" height="2.95" fill="#ff8e00"/>
<rect x="904.4" y="198.31" width="19.7" height="2.95" fill="#ff8200"/>
<rect x="904.4" y="195.36" width="19.7" height="2.95" fill="#ff7600"/>
<rect x="904.4" y="192.41" width="19.7" height="2.95" fill="#ff6a00"/>
<rect x="904.4" y="189.46" width="19.7" height="2.95" fill="#ff5e00"/>
<rect x="904.4" y="186.51" width="19.7" height="2.95" fill="#ff5200"/>
<rect x="904.4" y="183.56" width="19.7" height="2.95" fill="#ff4600"/>
<rect x="904.4" y="180.61" width="19.7" height="2.95" fill="#ff3d00"/>
<rect x="904.4" y="177.67" width="19.7" height="2.95" fill="#ff3500"/>
<rect x="904.4" y="174.72" width="19.7" height="2.95" fill="#ff2c00"/>
<rect x="904.4" y="171.77" width="19.7" height="2.95" fill="#ff2300"/>
<rect x="904.4" y="168.82" width="19.7" height="2.95" fill="#ff1b00"/>
<rect x="904.4" y="165.87" width="19.7" height="2.95" fill="#ff1200"/>
<rect x="904.4" y="162.92" width="19.7" height="2.95" fill="#ff0900"/>
<rect x="904.4" y="159.98" width="19.7" height="2.95" fill="#ff0100"/>
<rect x="904.4" y="157.03" width="19.7" height="2.95" fill="#f90000"/>
<rect x="904.4" y="154.08" width="19.7" height="2.95" fill="#f20000"/>
<rect x="904.4" y="151.13" width="19.7" height="2.95" fill="#eb0000"/>
<rect x="904.4" y="148.18" width="19.7" height="2.95" fill="#e40000"/>
<rect x="904.4" y="145.23" width="19.7" height="2.95" fill="#dd0000"/>
<rect x="904.4" y="142.28" width="19.7" height="2.95" fill="#d60000"/>
<rect x="904.4" y="139.34" width="19.7" height="2.95" fill="#cf0000"/>
<rect x="904.4" y="136.39" width="19.7" height="2.95" fill="#c80000"/>
<rect x="904.4" y="133.44" width="19.7" height="2.95" fill="#cf1617"/>
<rect x="904.4" y="130.49" width="19.7" height="2.95" fill="#d62d30"/>
<rect x="904.4" y="127.54" width="19.7" height="2.95" fill="#dc4448"/>
<rect x="904.4" y="124.59" width="19.7" height="2.95" fill="#e35a60"/>
<rect x="904.4" y="121.65" width="19.7" height="2.95" fill="#ea7178"/>
<rect x="904.4" y="118.70" width="19.7" height="2.95" fill="#f18890"/>
<rect x="904.4" y="115.75" width="19.7" height="2.95" fill="#f89fa9"/>
<rect x="904.4" y="112.80" width="19.7" height="2.95" fill="#ffb6c1"/>
</g>
<text x="942.3" y="122.2" font-size="17.1">35</text>
<text x="942.3" y="142.9" font-size="17.1">28</text>
<text x="942.3" y="163.5" font-size="17.1">21</text>
<text x="942.3" y="184.2" font-size="17.1">14</text>
<text x="942.3" y="204.8" font-size="17.1">7</text>
<text x="942.3" y="225.4" font-size="17.1">0</text>
<text x="942.3" y="246.1" font-size="17.1">-7</text>
<text x="942.3" y="266.7" font-size="17.1">-14</text>
<text x="942.3" y="287.4" font-size="17.1">-21</text>
<text x="942.3" y="308.0" font-size="17.1">-28</text>
<text x="942.3" y="328.6" font-size="17.1">-35</text>
<text x="942.3" y="349.3" font-size="17.1">-42</text>
<text x="942.3" y="369.9" font-size="17.1">-49</text>
<text x="942.3" y="390.6" font-size="17.1">-56</text>
<g stroke="#000" fill="none">
<path d="M153.5 480.4H870.5M153.5 499.6H870.5M153.5 519.2H870.5M153.5 538.6H870.5M153.5 558.2H870.5M225.5 563.2V460.7M297.1 563.2V460.7M368.8 563.2V460.7M440.4 563.2V460.7M512.0 563.2V460.7M583.6 563.2V460.7M655.3 563.2V460.7M726.9 563.2V460.7M798.5 563.2V460.7" stroke-width="0.85" stroke-dasharray="3.8 5.63" stroke="#3a3a3a"/>
<rect x="153.5" y="460.7" width="717.0" height="102.5" stroke-width="0.95"/>
<path d="M153.5 460.7h-13.8M870.5 460.7h13.8M153.5 480.4h-13.8M870.5 480.4h13.8M153.5 499.6h-13.8M870.5 499.6h13.8M153.5 519.2h-13.8M870.5 519.2h13.8M153.5 538.6h-13.8M870.5 538.6h13.8M153.5 558.2h-13.8M870.5 558.2h13.8M225.5 563.2v14M297.1 563.2v14M368.8 563.2v14M440.4 563.2v14M512.0 563.2v14M583.6 563.2v14M655.3 563.2v14M726.9 563.2v14M798.5 563.2v14" stroke-width="1.2"/>
<path d="M153.5 465.6h-6.8M870.5 465.6h6.8M153.5 470.5h-6.8M870.5 470.5h6.8M153.5 475.5h-6.8M870.5 475.5h6.8M153.5 485.2h-6.8M870.5 485.2h6.8M153.5 490.0h-6.8M870.5 490.0h6.8M153.5 494.8h-6.8M870.5 494.8h6.8M153.5 504.5h-6.8M870.5 504.5h6.8M153.5 509.4h-6.8M870.5 509.4h6.8M153.5 514.3h-6.8M870.5 514.3h6.8M153.5 524.1h-6.8M870.5 524.1h6.8M153.5 528.9h-6.8M870.5 528.9h6.8M153.5 533.8h-6.8M870.5 533.8h6.8M153.5 543.5h-6.8M870.5 543.5h6.8M153.5 548.4h-6.8M870.5 548.4h6.8M153.5 553.3h-6.8M870.5 553.3h6.8" stroke-width="0.7" stroke="#333"/>
</g>
<text x="134.3" y="463.8" font-size="8.8" text-anchor="end" fill="#222">1022.4</text>
<text x="134.3" y="483.5" font-size="8.8" text-anchor="end" fill="#222">1022.0</text>
<text x="134.3" y="502.7" font-size="8.8" text-anchor="end" fill="#222">1021.6</text>
<text x="134.3" y="522.3" font-size="8.8" text-anchor="end" fill="#222">1021.2</text>
<text x="134.3" y="541.7" font-size="8.8" text-anchor="end" fill="#222">1020.8</text>
<text x="134.3" y="561.3" font-size="8.8" text-anchor="end" fill="#222">1020.4</text>
<text transform="translate(82.9 512.3) rotate(-90)" font-size="24" text-anchor="middle" y="8.6">PMSL</text>
<text transform="translate(228.7 589.7) rotate(-45)" font-size="13.2" text-anchor="middle" y="4.6">24_12</text>
<text transform="translate(300.3 589.7) rotate(-45)" font-size="13.2" text-anchor="middle" y="4.6">24_15</text>
<text transform="translate(372.0 589.7) rotate(-45)" font-size="13.2" text-anchor="middle" y="4.6">24_18</text>
<text transform="translate(443.6 589.7) rotate(-45)" font-size="13.2" text-anchor="middle" y="4.6">24_21</text>
<text transform="translate(515.2 589.7) rotate(-45)" font-size="13.2" text-anchor="middle" y="4.6">25_00</text>
<text transform="translate(586.9 589.7) rotate(-45)" font-size="13.2" text-anchor="middle" y="4.6">25_03</text>
<text transform="translate(658.5 589.7) rotate(-45)" font-size="13.2" text-anchor="middle" y="4.6">25_06</text>
<text transform="translate(730.1 589.7) rotate(-45)" font-size="13.2" text-anchor="middle" y="4.6">25_09</text>
<text transform="translate(801.7 589.7) rotate(-45)" font-size="13.2" text-anchor="middle" y="4.6">25_12</text>
<polyline points="225.5,533.4 297.1,474.4 368.8,495.6 440.4,509.1 512.0,478.4 583.6,470.0 655.3,488.1 726.9,520.9 798.5,552.8" fill="none" stroke="#2222ff" stroke-width="1.1"/>
<g stroke="#000" fill="none">
<path d="M153.5 634.6H870.5M153.5 655.4H870.5M153.5 675.6H870.5M153.5 696.4H870.5M225.5 716.5V614.4M297.1 716.5V614.4M368.8 716.5V614.4M440.4 716.5V614.4M512.0 716.5V614.4M583.6 716.5V614.4M655.3 716.5V614.4M726.9 716.5V614.4M798.5 716.5V614.4" stroke-width="0.85" stroke-dasharray="3.8 5.63" stroke="#3a3a3a"/>
<rect x="153.5" y="614.4" width="717.0" height="102.1" stroke-width="0.95"/>
<path d="M153.5 614.4h-13.8M870.5 614.4h13.8M153.5 634.6h-13.8M870.5 634.6h13.8M153.5 655.4h-13.8M870.5 655.4h13.8M153.5 675.6h-13.8M870.5 675.6h13.8M153.5 696.4h-13.8M870.5 696.4h13.8M153.5 716.5h-13.8M870.5 716.5h13.8M225.5 716.5v14M297.1 716.5v14M368.8 716.5v14M440.4 716.5v14M512.0 716.5v14M583.6 716.5v14M655.3 716.5v14M726.9 716.5v14M798.5 716.5v14" stroke-width="1.2"/>
<path d="M153.5 619.5h-6.8M870.5 619.5h6.8M153.5 624.5h-6.8M870.5 624.5h6.8M153.5 629.5h-6.8M870.5 629.5h6.8M153.5 639.8h-6.8M870.5 639.8h6.8M153.5 645.0h-6.8M870.5 645.0h6.8M153.5 650.2h-6.8M870.5 650.2h6.8M153.5 660.5h-6.8M870.5 660.5h6.8M153.5 665.5h-6.8M870.5 665.5h6.8M153.5 670.5h-6.8M870.5 670.5h6.8M153.5 680.8h-6.8M870.5 680.8h6.8M153.5 686.0h-6.8M870.5 686.0h6.8M153.5 691.2h-6.8M870.5 691.2h6.8M153.5 701.4h-6.8M870.5 701.4h6.8M153.5 706.5h-6.8M870.5 706.5h6.8M153.5 711.5h-6.8M870.5 711.5h6.8" stroke-width="0.7" stroke="#333"/>
</g>
<text x="134.3" y="617.5" font-size="8.8" text-anchor="end" fill="#222">8.0</text>
<text x="134.3" y="637.7" font-size="8.8" text-anchor="end" fill="#222">6.0</text>
<text x="134.3" y="658.5" font-size="8.8" text-anchor="end" fill="#222">4.0</text>
<text x="134.3" y="678.7" font-size="8.8" text-anchor="end" fill="#222">2.0</text>
<text x="134.3" y="699.5" font-size="8.8" text-anchor="end" fill="#222">0.0</text>
<text x="134.3" y="719.6" font-size="8.8" text-anchor="end" fill="#222">-2.0</text>
<text transform="translate(94.3 665.5) rotate(-90)" font-size="24" text-anchor="middle" y="8.6">TEMP at 2 M</text>
<text transform="translate(228.7 742.5) rotate(-45)" font-size="13.2" text-anchor="middle" y="4.6">24_12</text>
<text transform="translate(300.3 742.5) rotate(-45)" font-size="13.2" text-anchor="middle" y="4.6">24_15</text>
<text transform="translate(372.0 742.5) rotate(-45)" font-size="13.2" text-anchor="middle" y="4.6">24_18</text>
<text transform="translate(443.6 742.5) rotate(-45)" font-size="13.2" text-anchor="middle" y="4.6">24_21</text>
<text transform="translate(515.2 742.5) rotate(-45)" font-size="13.2" text-anchor="middle" y="4.6">25_00</text>
<text transform="translate(586.9 742.5) rotate(-45)" font-size="13.2" text-anchor="middle" y="4.6">25_03</text>
<text transform="translate(658.5 742.5) rotate(-45)" font-size="13.2" text-anchor="middle" y="4.6">25_06</text>
<text transform="translate(730.1 742.5) rotate(-45)" font-size="13.2" text-anchor="middle" y="4.6">25_09</text>
<text transform="translate(801.7 742.5) rotate(-45)" font-size="13.2" text-anchor="middle" y="4.6">25_12</text>
<polyline points="225.5,629.6 297.1,681.8 368.8,693.3 440.4,698.0 512.0,712.4 583.6,666.4 655.3,640.2 726.9,624.2 798.5,637.7" fill="none" stroke="#ff2222" stroke-width="1.1"/>
<g stroke="#000" fill="none">
<path d="M153.5 819.5H870.5M153.5 845.7H870.5M153.5 872.5H870.5M153.5 899.2H870.5M153.5 925.6H870.5M243.1 952.0V819.5M332.8 952.0V819.5M422.4 952.0V819.5M512.0 952.0V819.5M601.6 952.0V819.5M691.2 952.0V819.5M780.9 952.0V819.5" stroke-width="0.85" stroke-dasharray="3.8 5.63" stroke="#3a3a3a"/>
<rect x="153.5" y="819.5" width="717.0" height="132.5" stroke-width="0.95"/>
<path d="M153.5 819.5h-13.8M870.5 819.5h13.8M153.5 845.7h-13.8M870.5 845.7h13.8M153.5 872.5h-13.8M870.5 872.5h13.8M153.5 899.2h-13.8M870.5 899.2h13.8M153.5 925.6h-13.8M870.5 925.6h13.8M153.5 952.0h-13.8M870.5 952.0h13.8M153.5 952.0v14M243.1 952.0v14M332.8 952.0v14M422.4 952.0v14M512.0 952.0v14M601.6 952.0v14M691.2 952.0v14M780.9 952.0v14M870.5 952.0v14" stroke-width="1.2"/>
<path d="M153.5 826.0h-6.8M870.5 826.0h6.8M153.5 832.6h-6.8M870.5 832.6h6.8M153.5 839.2h-6.8M870.5 839.2h6.8M153.5 852.4h-6.8M870.5 852.4h6.8M153.5 859.1h-6.8M870.5 859.1h6.8M153.5 865.8h-6.8M870.5 865.8h6.8M153.5 879.2h-6.8M870.5 879.2h6.8M153.5 885.9h-6.8M870.5 885.9h6.8M153.5 892.5h-6.8M870.5 892.5h6.8M153.5 905.8h-6.8M870.5 905.8h6.8M153.5 912.4h-6.8M870.5 912.4h6.8M153.5 919.0h-6.8M870.5 919.0h6.8M153.5 932.2h-6.8M870.5 932.2h6.8M153.5 938.8h-6.8M870.5 938.8h6.8M153.5 945.4h-6.8M870.5 945.4h6.8" stroke-width="0.7" stroke="#333"/>
</g>
<text x="134.3" y="822.6" font-size="8.8" text-anchor="end" fill="#222">1.0</text>
<text x="134.3" y="848.8" font-size="8.8" text-anchor="end" fill="#222">0.8</text>
<text x="134.3" y="875.6" font-size="8.8" text-anchor="end" fill="#222">0.6</text>
<text x="134.3" y="902.3" font-size="8.8" text-anchor="end" fill="#222">0.4</text>
<text x="134.3" y="928.7" font-size="8.8" text-anchor="end" fill="#222">0.2</text>
<text x="134.3" y="955.1" font-size="8.8" text-anchor="end" fill="#222">0.0</text>
<text transform="translate(91.7 885.5) rotate(-90)" font-size="24" text-anchor="middle" y="8.6" textLength="144.3" lengthAdjust="spacing">PRECIP, mm</text>
<text transform="translate(157.1 979.8) rotate(-45)" font-size="13.2" text-anchor="middle" y="4.6">24_12</text>
<text transform="translate(246.7 979.8) rotate(-45)" font-size="13.2" text-anchor="middle" y="4.6">24_15</text>
<text transform="translate(336.4 979.8) rotate(-45)" font-size="13.2" text-anchor="middle" y="4.6">24_18</text>
<text transform="translate(426.0 979.8) rotate(-45)" font-size="13.2" text-anchor="middle" y="4.6">24_21</text>
<text transform="translate(515.6 979.8) rotate(-45)" font-size="13.2" text-anchor="middle" y="4.6">25_00</text>
<text transform="translate(605.2 979.8) rotate(-45)" font-size="13.2" text-anchor="middle" y="4.6">25_03</text>
<text transform="translate(694.9 979.8) rotate(-45)" font-size="13.2" text-anchor="middle" y="4.6">25_06</text>
<text transform="translate(784.5 979.8) rotate(-45)" font-size="13.2" text-anchor="middle" y="4.6">25_09</text>
<text transform="translate(874.1 979.8) rotate(-45)" font-size="13.2" text-anchor="middle" y="4.6">25_12</text>
<path d="M153.5 952H870.5" stroke="#0b3a0b" stroke-width="1.0"/>
</svg></body></html>
